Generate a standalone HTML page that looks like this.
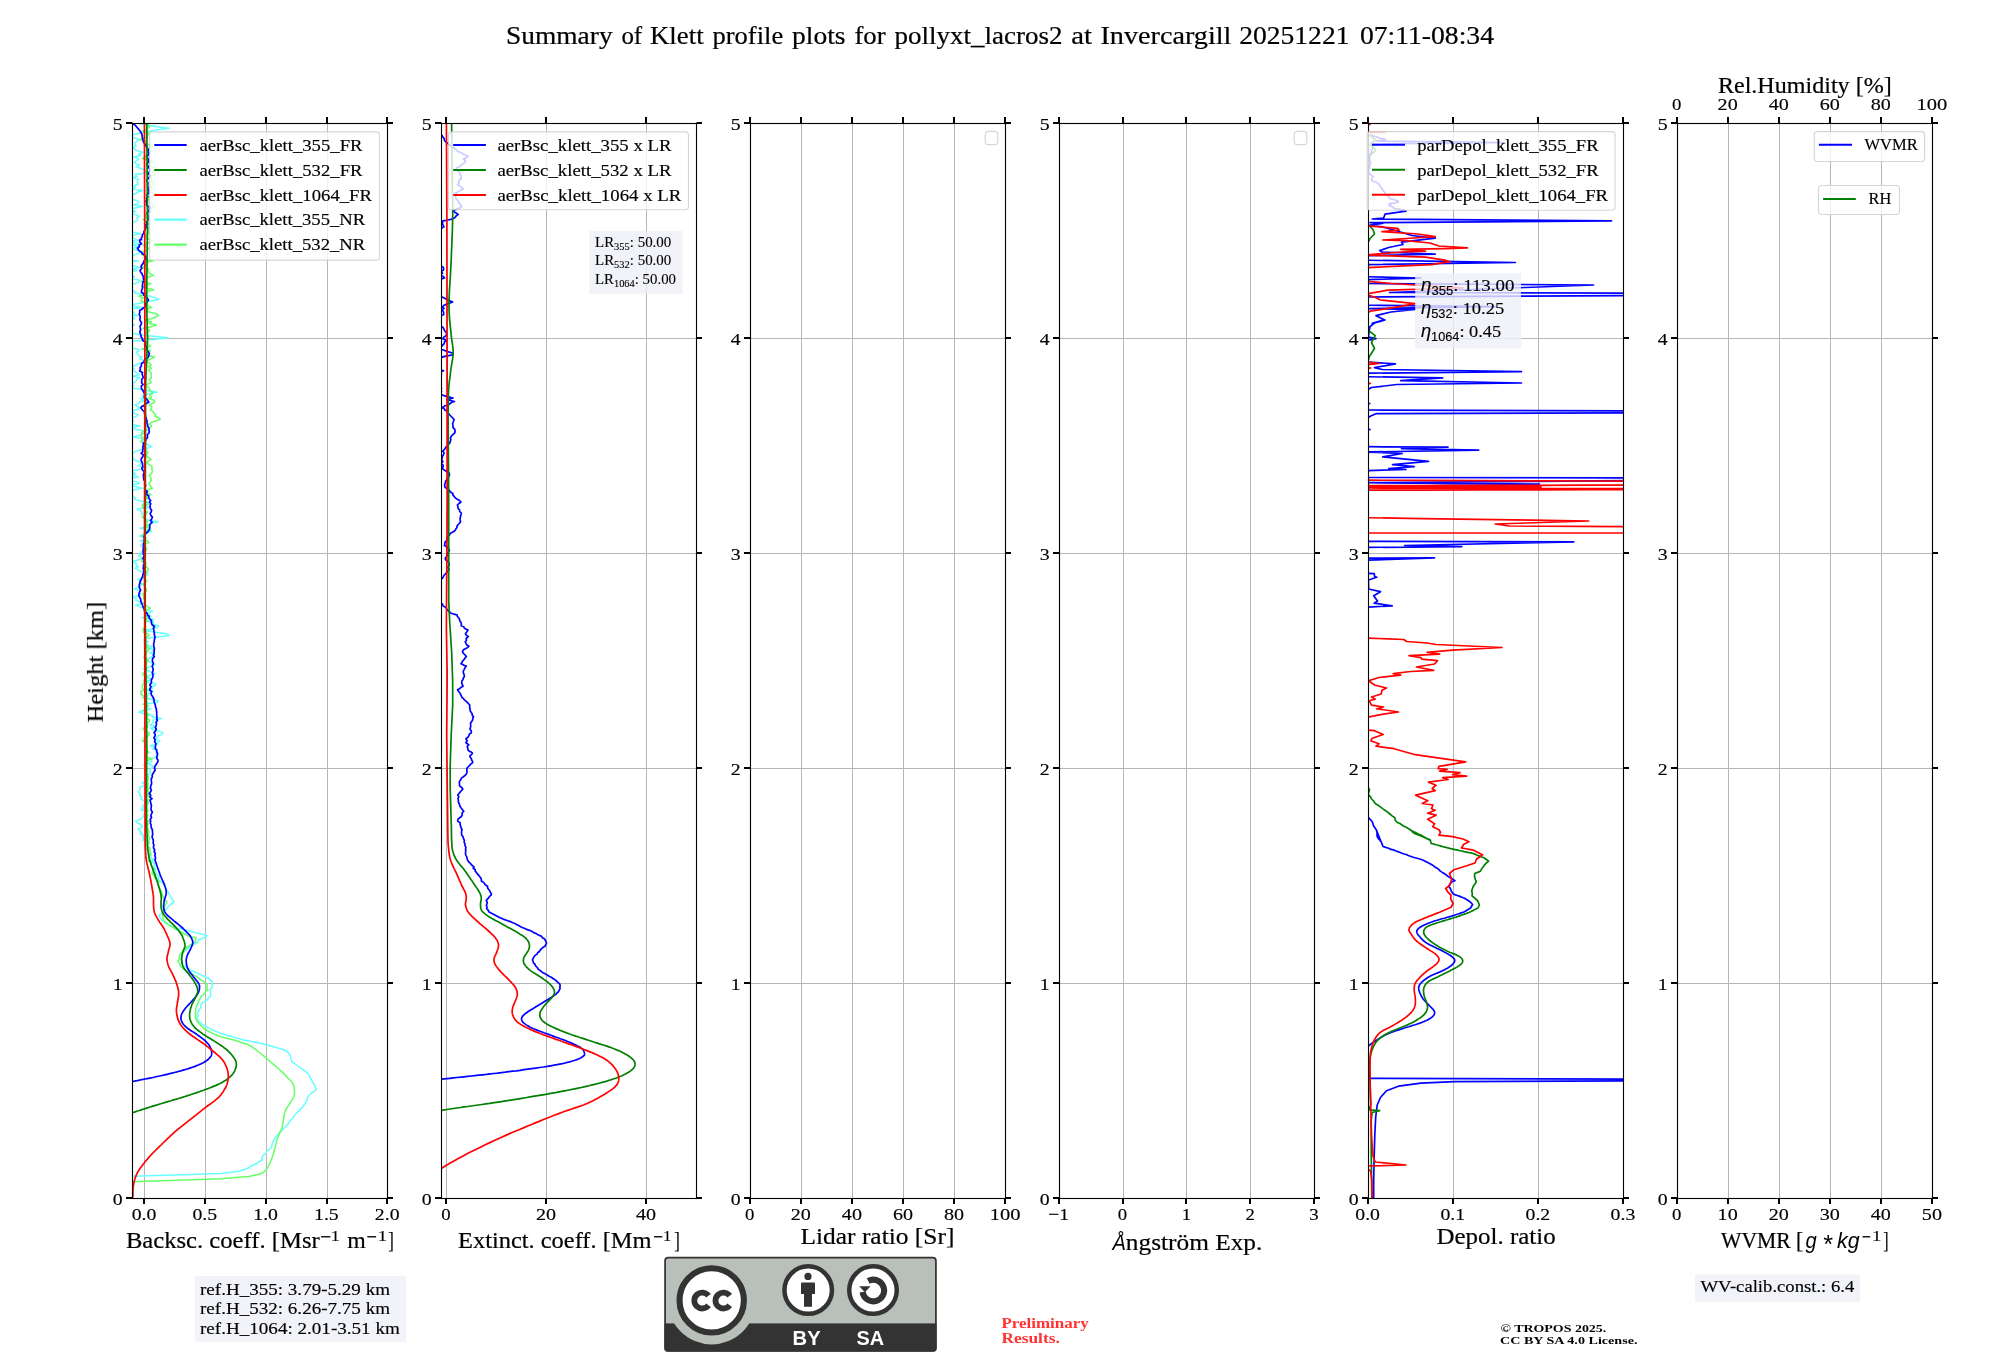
<!DOCTYPE html>
<html><head><meta charset="utf-8"><title>Klett profile summary</title>
<style>
html,body{margin:0;padding:0;background:#fff;}
body{width:2000px;height:1360px;overflow:hidden;font-family:"Liberation Serif",serif;}
svg{display:block;}
text{white-space:pre;}
</style></head><body>
<svg width="2000" height="1360" viewBox="0 0 2000 1360" style="will-change:transform">
<defs>
<clipPath id="clip0"><rect x="132.5" y="123.5" width="255.0" height="1075.0"/></clipPath><clipPath id="clip1"><rect x="441.5" y="123.5" width="255.0" height="1075.0"/></clipPath><clipPath id="clip2"><rect x="750.5" y="123.5" width="255.0" height="1075.0"/></clipPath><clipPath id="clip3"><rect x="1059.5" y="123.5" width="255.0" height="1075.0"/></clipPath><clipPath id="clip4"><rect x="1368.5" y="123.5" width="255.0" height="1075.0"/></clipPath><clipPath id="clip5"><rect x="1677.5" y="123.5" width="255.0" height="1075.0"/></clipPath>
</defs>
<rect width="2000" height="1360" fill="#fff"/>
<g opacity="0.999">
<line x1="144.50" y1="123.5" x2="144.50" y2="1198.5" stroke="#b6b6b6" stroke-width="1"/>
<line x1="205.50" y1="123.5" x2="205.50" y2="1198.5" stroke="#b6b6b6" stroke-width="1"/>
<line x1="266.50" y1="123.5" x2="266.50" y2="1198.5" stroke="#b6b6b6" stroke-width="1"/>
<line x1="327.50" y1="123.5" x2="327.50" y2="1198.5" stroke="#b6b6b6" stroke-width="1"/>
<line x1="387.50" y1="123.5" x2="387.50" y2="1198.5" stroke="#b6b6b6" stroke-width="1"/>
<line x1="132.5" y1="1198.50" x2="387.5" y2="1198.50" stroke="#b6b6b6" stroke-width="1"/>
<line x1="132.5" y1="983.50" x2="387.5" y2="983.50" stroke="#b6b6b6" stroke-width="1"/>
<line x1="132.5" y1="768.50" x2="387.5" y2="768.50" stroke="#b6b6b6" stroke-width="1"/>
<line x1="132.5" y1="553.50" x2="387.5" y2="553.50" stroke="#b6b6b6" stroke-width="1"/>
<line x1="132.5" y1="338.50" x2="387.5" y2="338.50" stroke="#b6b6b6" stroke-width="1"/>
<line x1="132.5" y1="123.50" x2="387.5" y2="123.50" stroke="#b6b6b6" stroke-width="1"/>
<g clip-path="url(#clip0)">
<path d="M139.2,123.4 L147.5,125.0 L155.4,126.6 L169.1,128.2 L157.2,129.8 L149.1,131.4 L140.7,133.0 L133.3,134.6 L131.8,136.2 L134.0,137.8 L139.1,139.4 L137.3,141.0 L135.1,142.6 L134.7,144.2 L136.2,145.8 L133.0,147.4 L134.8,149.0 L136.5,150.6 L142.9,152.2 L138.6,153.8 L141.0,155.4 L133.9,157.0 L138.6,158.6 L137.7,160.2 L134.4,161.8 L135.2,163.4 L139.3,165.0 L136.0,166.6 L140.1,168.2 L143.9,169.8 L145.9,171.4 L146.7,173.0 L135.1,174.6 L136.9,176.2 L133.4,177.8 L138.7,179.4 L137.3,181.0 L137.3,182.6 L138.3,184.2 L134.3,185.8 L135.5,187.4 L132.6,189.0 L143.0,190.6 L136.9,192.2 L136.2,193.8 L128.5,195.4 L126.5,197.0 L128.3,198.6 L135.8,200.2 L138.9,201.8 L138.1,203.4 L134.0,205.0 L142.6,206.6 L134.2,208.2 L131.4,209.8 L135.8,211.4 L131.4,213.0 L134.9,214.6 L139.3,216.2 L136.8,217.8 L137.7,219.4 L136.5,221.0 L133.0,222.6 L121.0,224.2 L124.2,225.8 L130.6,227.4 L126.4,229.0 L129.2,230.6 L133.6,232.2 L140.3,233.8 L131.6,235.4 L131.5,237.0 L134.6,238.6 L137.2,240.2 L129.4,241.8 L140.3,243.4 L132.4,245.0 L137.7,246.6 L133.5,248.2 L134.4,249.8 L141.3,251.4 L139.4,253.0 L135.7,254.6 L128.4,256.2 L127.1,257.8 L122.7,259.4 L138.2,261.0 L126.7,262.6 L116.7,264.2 L133.8,265.8 L139.2,267.4 L133.1,269.0 L136.7,270.6 L129.8,272.2 L128.1,273.8 L132.9,275.4 L134.3,277.0 L130.7,278.6 L139.6,280.2 L138.9,281.8 L135.6,283.4 L127.5,285.0 L130.8,286.6 L129.9,288.2 L130.8,289.8 L135.5,291.4 L134.7,293.0 L142.7,294.6 L150.3,296.2 L155.4,297.8 L158.7,299.4 L150.7,301.0 L144.5,302.6 L134.2,304.2 L129.8,305.8 L143.5,307.4 L128.6,309.0 L129.2,310.6 L134.2,312.2 L133.5,313.8 L137.3,315.4 L126.4,317.0 L134.7,318.6 L128.4,320.2 L124.4,321.8 L131.8,323.4 L134.4,325.0 L129.4,326.6 L126.9,328.2 L128.9,329.8 L130.8,331.4 L130.7,333.0 L138.6,334.6 L153.6,336.2 L168.0,337.8 L153.0,339.4 L132.9,341.0 L125.0,342.6 L129.1,344.2 L132.1,345.8 L125.6,347.4 L138.0,349.0 L139.1,350.6 L136.3,352.2 L138.0,353.8 L138.2,355.4 L141.9,357.0 L139.6,358.6 L143.3,360.2 L146.2,361.8 L139.3,363.4 L135.9,365.0 L132.5,366.6 L134.0,368.2 L132.4,369.8 L135.0,371.4 L137.3,373.0 L139.3,374.6 L132.8,376.2 L139.8,377.8 L136.7,379.4 L136.2,381.0 L134.3,382.6 L127.1,384.2 L133.8,385.8 L127.9,387.4 L137.8,389.0 L148.4,390.6 L157.1,392.2 L148.7,393.8 L142.2,395.4 L145.1,397.0 L140.1,398.6 L144.8,400.2 L139.6,401.8 L139.1,403.4 L134.9,405.0 L138.3,406.6 L140.3,408.2 L136.1,409.8 L131.0,411.4 L134.2,413.0 L137.6,414.6 L136.5,416.2 L132.5,417.8 L131.9,419.4 L133.6,421.0 L124.2,422.6 L129.0,424.2 L139.8,425.8 L132.5,427.4 L134.1,429.0 L143.0,430.6 L142.5,432.2 L143.2,433.8 L138.9,435.4 L132.0,437.0 L147.3,438.6 L142.6,440.2 L140.3,441.8 L146.2,443.4 L148.5,445.0 L151.7,446.6 L147.2,448.2 L140.3,449.8 L135.4,451.4 L133.4,453.0 L131.7,454.6 L130.4,456.2 L133.7,457.8 L133.0,459.4 L137.1,461.0 L141.4,462.6 L140.2,464.2 L138.4,465.8 L144.3,467.4 L142.9,469.0 L133.1,470.6 L132.3,472.2 L135.8,473.8 L132.7,475.4 L138.5,477.0 L130.1,478.6 L125.9,480.2 L136.6,481.8 L139.3,483.4 L131.1,485.0 L134.9,486.6 L141.9,488.2 L134.3,489.8 L131.7,491.4 L131.2,493.0 L132.6,494.6 L130.9,496.2 L135.7,497.8 L134.6,499.4 L139.9,501.0 L150.2,502.6 L142.1,504.2 L146.1,505.8 L148.8,507.4 L136.6,509.0 L140.8,510.6 L142.0,512.2 L141.3,513.8 L145.4,515.4 L142.3,517.0 L144.1,518.6 L148.8,520.2 L157.9,521.8 L150.0,523.4 L150.3,525.0 L145.8,526.6 L139.9,528.2 L149.2,529.8 L151.6,531.4 L145.9,533.0 L141.7,534.6 L139.7,536.2 L146.3,537.8 L143.2,539.4 L140.4,541.0 L145.1,542.6 L142.6,544.2 L140.6,545.8 L146.3,547.4 L143.5,549.0 L143.4,550.6 L140.8,552.2 L143.0,553.8 L138.4,555.4 L140.8,557.0 L142.1,558.6 L137.1,560.2 L131.7,561.8 L136.4,563.4 L135.9,565.0 L138.5,566.6 L135.0,568.2 L137.8,569.8 L140.7,571.4 L147.3,573.0 L147.9,574.6 L142.8,576.2 L144.7,577.8 L137.6,579.4 L141.5,581.0 L139.3,582.6 L142.9,584.2 L140.6,585.8 L137.5,587.4 L134.4,589.0 L140.6,590.6 L138.7,592.2 L140.4,593.8 L140.2,595.4 L130.5,597.0 L136.6,598.6 L135.6,600.2 L139.7,601.8 L142.7,603.4 L135.7,605.0 L139.6,606.6 L143.3,608.2 L147.6,609.8 L152.8,611.4 L147.9,613.0 L147.6,614.6 L151.1,616.2 L142.0,617.8 L154.2,619.4 L147.2,621.0 L154.0,622.6 L151.8,624.2 L158.4,625.8 L157.6,627.4 L152.6,629.0 L143.3,630.6 L156.1,632.2 L166.7,633.8 L169.2,635.4 L157.3,637.0 L145.3,638.6 L143.7,640.2 L148.2,641.8 L145.1,643.4 L147.1,645.0 L152.5,646.6 L148.9,648.2 L155.0,649.8 L153.1,651.4 L149.9,653.0 L154.4,654.6 L153.7,656.2 L150.1,657.8 L147.2,659.4 L148.4,661.0 L150.6,662.6 L155.0,664.2 L153.0,665.8 L148.4,667.4 L143.4,669.0 L148.2,670.6 L150.8,672.2 L155.0,673.8 L149.7,675.4 L144.2,677.0 L151.0,678.6 L149.6,680.2 L144.5,681.8 L154.7,683.4 L155.7,685.0 L152.6,686.6 L152.2,688.2 L147.7,689.8 L153.3,691.4 L149.5,693.0 L147.8,694.6 L147.8,696.2 L144.2,697.8 L152.0,699.4 L158.2,701.0 L157.0,702.6 L144.6,704.2 L147.0,705.8 L146.7,707.4 L151.0,709.0 L142.4,710.6 L138.9,712.2 L144.7,713.8 L153.1,715.4 L152.0,717.0 L161.4,718.6 L153.0,720.2 L153.3,721.8 L152.7,723.4 L149.9,725.0 L156.6,726.6 L150.4,728.2 L153.5,729.8 L159.0,731.4 L163.0,733.0 L161.3,734.6 L157.3,736.2 L157.0,737.8 L154.3,739.4 L160.0,741.0 L157.6,742.6 L157.7,744.2 L150.3,745.8 L155.5,747.4 L152.7,749.0 L156.5,750.6 L156.5,752.2 L156.3,753.8 L157.8,755.4 L155.8,757.0 L151.0,758.6 L151.8,760.2 L151.8,761.8 L147.9,763.4 L150.7,765.0 L153.8,766.6 L151.5,768.2 L149.9,769.8 L149.8,771.4 L151.0,773.0 L147.2,774.6 L148.8,776.2 L145.2,777.8 L146.3,779.4 L146.4,781.0 L142.2,782.6 L144.3,784.2 L144.0,785.8 L139.6,787.4 L140.0,789.0 L139.5,790.6 L138.5,792.2 L140.3,793.8 L139.7,795.4 L141.7,797.0 L140.9,798.6 L142.8,800.2 L148.3,801.8 L148.1,803.4 L143.4,805.0 L142.6,806.6 L143.7,808.2 L141.0,809.8 L144.9,811.4 L144.4,813.0 L144.0,814.6 L143.9,816.2 L142.2,817.8 L140.5,819.4 L135.8,821.0 L136.6,822.6 L140.4,824.2 L142.6,825.8 L141.8,827.4 L138.1,829.0 L139.6,830.6 L141.5,832.2 L140.2,833.8 L144.8,835.4 L142.6,837.0 L144.1,838.6 L143.1,840.2 L146.5,841.8 L144.6,843.4 L144.8,845.0 L148.5,846.6 L146.5,848.2 L147.1,849.8 L149.5,851.4 L150.5,853.0 L147.9,854.6 L150.9,856.2 L151.1,857.8 L153.9,859.4 L150.8,861.0 L153.7,862.6 L154.7,864.2 L154.2,865.8 L154.3,867.4 L155.9,869.0 L155.3,870.6 L156.0,872.2 L156.0,873.8 L157.7,875.4 L159.6,877.0 L157.6,878.6 L159.3,880.2 L160.8,881.8 L163.3,883.4 L166.0,890.0 L168.1,891.5 L168.4,893.0 L169.5,894.5 L170.3,896.0 L171.2,897.6 L172.4,899.2 L173.1,900.8 L173.9,902.4 L172.2,903.5 L170.4,904.5 L169.5,905.5 L168.1,906.5 L167.5,908.0 L165.8,909.5 L164.5,911.0 L163.3,912.3 L161.6,913.6 L159.2,914.9 L159.3,916.2 L159.7,917.7 L161.2,919.2 L162.0,920.7 L164.8,922.2 L165.5,923.0 L166.7,923.7 L167.5,924.5 L170.2,925.2 L170.9,926.0 L173.5,926.7 L173.8,927.5 L176.1,927.9 L178.3,928.3 L179.0,928.6 L181.2,929.0 L182.8,929.4 L184.9,929.8 L185.8,930.2 L188.0,930.6 L190.4,930.9 L190.2,931.3 L192.1,931.7 L194.4,932.1 L195.5,932.6 L196.8,933.0 L199.8,933.5 L201.2,933.9 L202.9,934.4 L204.6,934.8 L206.0,935.3 L206.8,935.7 L206.3,936.3 L206.3,936.9 L204.0,937.5 L203.1,938.1 L201.8,938.7 L199.4,939.3 L198.4,940.7 L198.0,942.1 L196.0,943.5 L193.2,944.4 L192.5,945.3 L191.1,946.2 L189.9,947.1 L188.5,948.0 L186.8,949.2 L185.5,950.4 L184.9,951.6 L182.5,952.8 L182.7,954.0 L182.0,956.0 L181.3,958.0 L181.0,960.0 L182.2,961.5 L182.0,963.0 L182.3,964.5 L184.5,966.0 L186.4,966.9 L186.9,967.8 L188.4,968.7 L189.7,969.6 L190.5,970.5 L192.8,971.1 L194.5,971.7 L195.6,972.4 L197.5,973.0 L198.0,973.6 L200.2,974.2 L201.1,975.0 L202.8,975.7 L204.7,976.5 L206.1,977.2 L208.0,978.0 L209.4,978.7 L209.7,980.0 L212.2,981.2 L212.0,982.5 L212.4,984.7 L212.2,987.0 L210.9,988.5 L210.0,990.0 L210.5,992.2 L210.8,994.5 L210.7,995.8 L209.4,997.1 L208.0,998.4 L207.5,999.7 L206.0,1000.7 L204.7,1001.6 L202.7,1002.6 L201.6,1003.5 L200.7,1005.7 L200.8,1008.0 L199.1,1009.5 L199.2,1011.0 L197.7,1012.5 L197.6,1014.0 L198.4,1016.0 L197.3,1018.0 L197.8,1020.0 L198.6,1021.2 L200.1,1022.4 L201.5,1023.6 L203.2,1024.8 L205.0,1026.0 L206.5,1026.7 L207.3,1027.4 L209.1,1028.0 L209.8,1028.7 L212.3,1029.4 L213.4,1030.1 L214.4,1030.8 L216.1,1031.5 L218.3,1032.1 L219.6,1032.8 L221.0,1033.5 L244.5,1040.2 L249.0,1041.1 L255.1,1042.2 L258.3,1042.9 L261.2,1043.5 L266.0,1044.7 L270.8,1045.9 L275.0,1047.0 L278.5,1048.1 L282.3,1049.2 L285.6,1050.5 L287.3,1051.8 L288.6,1053.1 L289.5,1054.5 L290.6,1055.9 L290.5,1057.5 L290.9,1059.0 L291.7,1060.5 L291.8,1061.9 L294.7,1063.4 L296.1,1064.8 L298.5,1066.5 L300.8,1068.4 L304.6,1070.5 L307.0,1072.6 L309.0,1074.7 L309.9,1076.9 L310.8,1079.0 L312.2,1081.1 L313.4,1083.0 L314.1,1084.7 L315.4,1086.1 L315.4,1087.6 L316.4,1089.0 L314.9,1090.4 L314.0,1091.7 L311.3,1093.2 L309.4,1095.0 L307.5,1097.4 L306.8,1100.3 L305.4,1103.1 L303.6,1105.5 L302.6,1107.2 L301.3,1108.4 L300.2,1109.6 L298.9,1111.2 L296.1,1113.4 L294.2,1115.9 L292.3,1118.5 L290.1,1121.0 L288.6,1123.3 L286.6,1125.5 L284.7,1127.7 L282.5,1130.0 L279.1,1132.6 L277.7,1135.3 L274.9,1138.1 L273.7,1140.5 L272.4,1142.6 L272.1,1144.5 L271.8,1146.2 L271.1,1148.0 L268.7,1149.8 L266.7,1151.5 L266.0,1153.2 L264.0,1154.7 L262.6,1156.2 L262.1,1157.4 L261.6,1158.7 L262.4,1160.0 L259.4,1161.5 L257.3,1163.0 L254.7,1164.5 L251.3,1166.0 L249.2,1167.5 L245.9,1169.0 L242.0,1170.3 L239.0,1171.2 L221.0,1173.5 L185.0,1174.7 L155.0,1175.6 L131.0,1176.2" fill="none" stroke="#66ffff" stroke-width="1.5" stroke-linejoin="round" stroke-linecap="butt"/>
<path d="M146.5,123.4 L146.8,125.0 L149.8,126.6 L147.8,128.2 L145.4,129.8 L142.7,131.4 L148.6,133.0 L148.5,134.6 L147.0,136.2 L145.2,137.8 L139.8,139.4 L145.4,141.0 L144.7,142.6 L147.1,144.2 L153.0,145.8 L149.9,147.4 L149.2,149.0 L152.3,150.6 L150.0,152.2 L150.1,153.8 L146.1,155.4 L145.0,157.0 L142.3,158.6 L149.3,160.2 L153.3,161.8 L149.7,163.4 L149.2,165.0 L148.2,166.6 L157.4,168.2 L156.3,169.8 L152.3,171.4 L153.1,173.0 L155.5,174.6 L149.2,176.2 L151.5,177.8 L152.5,179.4 L151.1,181.0 L152.8,182.6 L154.9,184.2 L152.2,185.8 L149.7,187.4 L152.7,189.0 L151.6,190.6 L151.9,192.2 L156.9,193.8 L154.2,195.4 L151.5,197.0 L146.4,198.6 L149.4,200.2 L150.7,201.8 L152.0,203.4 L152.5,205.0 L153.1,206.6 L152.0,208.2 L151.1,209.8 L152.1,211.4 L148.6,213.0 L146.1,214.6 L144.9,216.2 L147.8,217.8 L143.3,219.4 L145.2,221.0 L147.0,222.6 L149.3,224.2 L146.2,225.8 L148.2,227.4 L149.0,229.0 L147.6,230.6 L148.8,232.2 L148.5,233.8 L145.5,235.4 L146.6,237.0 L145.3,238.6 L153.3,240.2 L150.2,241.8 L147.3,243.4 L143.2,245.0 L145.9,246.6 L148.2,248.2 L148.0,249.8 L143.3,251.4 L142.4,253.0 L141.7,254.6 L145.7,256.2 L144.1,257.8 L145.8,259.4 L152.9,261.0 L143.9,262.6 L145.2,264.2 L146.5,265.8 L142.2,267.4 L148.8,269.0 L147.4,270.6 L148.9,272.2 L150.2,273.8 L153.6,275.4 L148.3,277.0 L145.9,278.6 L142.7,280.2 L141.3,281.8 L151.0,283.4 L147.7,285.0 L141.9,286.6 L147.5,288.2 L153.6,289.8 L147.2,291.4 L147.4,293.0 L142.9,294.6 L138.9,296.2 L143.1,297.8 L141.7,299.4 L141.1,301.0 L144.8,302.6 L147.8,304.2 L147.0,305.8 L151.7,307.4 L147.4,309.0 L146.5,310.6 L150.1,312.2 L156.4,313.8 L158.5,315.4 L155.8,317.0 L151.8,318.6 L145.1,320.2 L151.5,321.8 L149.2,323.4 L156.3,325.0 L151.8,326.6 L143.0,328.2 L149.4,329.8 L149.1,331.4 L146.5,333.0 L147.7,334.6 L147.8,336.2 L148.8,337.8 L142.2,339.4 L145.4,341.0 L148.3,342.6 L144.1,344.2 L150.6,345.8 L148.8,347.4 L141.9,349.0 L150.6,350.6 L148.2,352.2 L148.6,353.8 L148.0,355.4 L154.5,357.0 L151.5,358.6 L147.9,360.2 L146.6,361.8 L149.7,363.4 L151.2,365.0 L148.2,366.6 L151.6,368.2 L148.4,369.8 L149.5,371.4 L151.1,373.0 L151.2,374.6 L151.2,376.2 L151.3,377.8 L149.2,379.4 L150.3,381.0 L151.1,382.6 L147.3,384.2 L145.1,385.8 L148.8,387.4 L149.5,389.0 L150.4,390.6 L152.3,392.2 L152.2,393.8 L149.7,395.4 L151.4,397.0 L148.9,398.6 L154.2,400.2 L154.8,401.8 L152.3,403.4 L149.4,405.0 L151.8,406.6 L151.4,408.2 L150.2,409.8 L153.0,411.4 L153.6,413.0 L155.8,414.6 L154.9,416.2 L158.8,417.8 L160.3,419.4 L155.5,421.0 L150.6,422.6 L149.3,424.2 L151.6,425.8 L150.2,427.4 L147.7,429.0 L145.7,430.6 L141.7,432.2 L141.8,433.8 L140.7,435.4 L142.1,437.0 L141.9,438.6 L141.7,440.2 L141.7,441.8 L143.3,443.4 L146.1,445.0 L142.4,446.6 L144.6,448.2 L144.2,449.8 L147.1,451.4 L148.1,453.0 L145.9,454.6 L146.5,456.2 L149.1,457.8 L151.0,459.4 L148.5,461.0 L146.9,462.6 L148.6,464.2 L151.3,465.8 L152.2,467.4 L151.8,469.0 L152.2,470.6 L152.2,472.2 L151.2,473.8 L149.0,475.4 L150.6,477.0 L150.8,478.6 L151.5,480.2 L150.2,481.8 L148.7,483.4 L150.0,485.0 L150.7,486.6 L152.5,488.2 L147.9,489.8 L147.2,491.4 L147.2,493.0 L151.1,494.6 L145.2,496.2 L147.9,497.8 L146.1,499.4 L144.9,501.0 L147.5,502.6 L148.4,504.2 L142.2,505.8 L142.6,507.4 L144.8,509.0 L144.9,510.6 L147.7,512.2 L145.6,513.8 L145.6,515.4 L142.3,517.0 L145.3,518.6 L145.8,520.2 L147.2,521.8 L145.3,523.4 L148.8,525.0 L146.0,526.6 L148.8,528.2 L150.2,529.8 L146.1,531.4 L146.1,533.0 L144.7,534.6 L142.0,536.2 L144.7,537.8 L145.0,539.4 L147.4,541.0 L148.8,542.6 L143.8,544.2 L144.0,545.8 L145.2,547.4 L146.6,549.0 L146.0,550.6 L144.2,552.2 L144.3,553.8 L145.8,555.4 L143.2,557.0 L141.9,558.6 L141.5,560.2 L142.3,561.8 L146.1,563.4 L144.7,565.0 L146.1,566.6 L147.9,568.2 L148.4,569.8 L147.0,571.4 L145.8,573.0 L145.4,574.6 L144.7,576.2 L143.7,577.8 L145.3,579.4 L146.8,581.0 L144.9,582.6 L143.5,584.2 L144.4,585.8 L144.9,587.4 L146.4,589.0 L146.1,590.6 L145.8,592.2 L142.8,593.8 L143.4,595.4 L143.8,597.0 L143.5,598.6 L145.3,600.2 L145.3,601.8 L143.9,603.4 L145.4,605.0 L147.4,606.6 L150.4,608.2 L147.5,609.8 L145.5,611.4 L146.9,613.0 L149.1,614.6 L146.1,616.2 L146.9,617.8 L145.7,619.4 L147.2,621.0 L145.0,622.6 L144.5,624.2 L144.6,625.8 L144.8,627.4 L142.9,629.0 L143.9,630.6 L143.3,632.2 L147.9,633.8 L149.1,635.4 L146.1,637.0 L145.0,638.6 L146.0,640.2 L144.8,641.8 L144.3,643.4 L146.2,645.0 L147.9,646.6 L147.5,648.2 L149.1,649.8 L147.3,651.4 L146.2,653.0 L145.2,654.6 L144.7,656.2 L143.8,657.8 L147.5,659.4 L148.1,661.0 L146.6,662.6 L146.3,664.2 L144.4,665.8 L146.3,667.4 L145.7,669.0 L145.4,670.6 L145.1,672.2 L142.7,673.8 L143.4,675.4 L147.5,677.0 L145.1,678.6 L143.8,680.2 L144.5,681.8 L143.5,683.4 L142.9,685.0 L142.4,686.6 L142.5,688.2 L144.4,689.8 L140.9,691.4 L141.0,693.0 L141.2,694.6 L143.8,696.2 L143.3,697.8 L145.4,699.4 L144.2,701.0 L147.1,702.6 L143.2,704.2 L148.2,705.8 L144.6,707.4 L144.7,709.0 L143.5,710.6 L144.4,712.2 L148.1,713.8 L148.5,715.4 L146.2,717.0 L147.0,718.6 L149.8,720.2 L149.0,721.8 L146.8,723.4 L147.2,725.0 L147.5,726.6 L143.4,728.2 L143.9,729.8 L145.3,731.4 L149.3,733.0 L149.0,734.6 L148.0,736.2 L144.0,737.8 L144.4,739.4 L142.6,741.0 L144.9,742.6 L144.6,744.2 L147.1,745.8 L146.7,747.4 L146.6,749.0 L147.1,750.6 L148.5,752.2 L146.8,753.8 L145.7,755.4 L146.4,757.0 L152.1,758.6 L148.0,760.2 L145.8,761.8 L146.9,763.4 L144.0,765.0 L146.4,766.6 L144.6,768.2 L145.2,769.8 L145.6,771.4 L144.7,773.0 L146.6,774.6 L146.6,776.2 L148.3,777.8 L148.4,779.4 L146.8,781.0 L147.9,782.6 L148.3,784.2 L147.7,785.8 L147.5,787.4 L148.9,789.0 L146.8,790.6 L148.7,792.2 L148.0,793.8 L148.2,795.4 L149.1,797.0 L151.7,798.6 L147.8,800.2 L145.4,801.8 L147.8,803.4 L146.9,805.0 L147.1,806.6 L145.1,808.2 L147.8,809.8 L147.9,811.4 L145.4,813.0 L147.8,814.6 L147.5,816.2 L146.7,817.8 L144.7,819.4 L148.7,821.0 L146.8,822.6 L148.1,824.2 L147.0,825.8 L146.0,827.4 L148.2,829.0 L148.7,830.6 L148.9,832.2 L147.7,833.8 L148.4,835.4 L148.8,837.0 L150.0,838.6 L148.7,840.2 L148.7,841.8 L149.2,843.4 L145.7,845.0 L147.5,846.6 L149.9,848.2 L150.0,849.8 L149.8,851.4 L150.3,853.0 L151.1,854.6 L148.5,856.2 L148.6,857.8 L148.6,859.4 L148.4,861.0 L150.9,862.6 L150.5,864.2 L151.6,865.8 L152.9,867.4 L154.3,869.0 L152.7,870.6 L152.2,872.2 L151.9,873.8 L154.3,875.4 L154.3,877.0 L155.9,878.6 L157.4,880.2 L159.2,881.8 L157.5,883.4 L160.4,890.0 L161.7,891.9 L162.0,893.7 L162.5,895.6 L163.6,897.5 L164.2,898.8 L165.0,900.1 L166.8,901.4 L166.8,902.7 L165.6,904.5 L164.7,906.2 L164.1,908.0 L163.9,909.5 L163.4,911.0 L162.8,912.5 L162.5,914.0 L162.8,916.0 L162.7,918.0 L163.3,920.0 L164.5,921.2 L165.5,922.4 L167.5,923.6 L168.6,924.8 L169.9,926.0 L172.3,926.9 L173.3,927.7 L174.3,928.6 L176.0,929.4 L178.5,930.3 L178.9,931.1 L180.8,932.0 L182.3,932.7 L183.7,933.5 L185.3,934.2 L186.3,935.0 L187.8,935.7 L189.5,936.5 L191.4,936.8 L193.8,937.2 L196.1,937.5 L195.2,939.7 L195.7,942.0 L193.6,942.9 L192.2,943.8 L190.9,944.7 L189.6,945.6 L187.8,946.5 L185.7,947.7 L186.1,949.0 L184.2,950.2 L182.8,951.5 L182.0,952.7 L180.3,954.0 L179.4,955.9 L179.6,957.7 L179.0,959.6 L177.9,961.5 L179.4,963.0 L179.9,964.5 L180.1,966.0 L182.0,967.5 L182.8,968.4 L183.6,969.2 L185.6,970.1 L186.8,971.0 L188.5,971.9 L189.0,972.7 L191.4,973.6 L192.9,974.5 L194.3,975.4 L195.8,976.2 L197.6,977.1 L198.8,978.0 L199.9,979.0 L200.9,980.0 L203.1,981.0 L204.4,982.0 L205.5,983.0 L206.8,984.0 L207.4,986.0 L206.5,988.0 L207.9,990.0 L205.5,991.2 L205.4,992.4 L204.5,993.6 L203.5,994.8 L201.3,996.0 L200.9,997.5 L200.0,999.0 L198.4,1000.5 L198.8,1002.0 L197.9,1003.5 L197.3,1005.0 L196.3,1006.5 L196.1,1008.0 L195.6,1009.5 L195.8,1011.5 L195.1,1013.5 L196.2,1015.5 L195.2,1017.0 L195.8,1018.5 L196.4,1020.0 L197.0,1021.5 L204.5,1029.0 L206.3,1030.0 L208.8,1031.3 L211.7,1032.9 L214.9,1034.4 L218.0,1035.7 L221.1,1036.8 L224.5,1037.7 L227.9,1038.5 L231.2,1039.3 L234.5,1040.2 L237.7,1041.2 L240.8,1042.2 L243.9,1043.2 L246.8,1044.3 L249.5,1045.5 L251.9,1046.9 L254.1,1048.3 L256.1,1049.9 L258.1,1051.5 L260.0,1053.0 L261.9,1054.5 L263.6,1055.9 L265.4,1057.4 L267.1,1058.9 L269.0,1060.5 L271.1,1062.2 L273.2,1064.1 L275.4,1065.9 L277.6,1067.8 L279.5,1069.5 L281.2,1071.1 L282.8,1072.6 L284.3,1074.1 L285.6,1075.6 L287.0,1077.0 L288.4,1078.4 L289.7,1079.8 L291.0,1081.1 L292.1,1082.4 L293.0,1083.7 L293.6,1085.1 L294.0,1086.5 L294.3,1087.9 L294.4,1089.2 L294.5,1090.5 L294.6,1091.7 L294.6,1092.8 L294.5,1093.9 L294.2,1095.1 L293.7,1096.5 L293.0,1098.2 L291.9,1100.1 L290.7,1102.0 L289.5,1103.9 L288.5,1105.5 L287.7,1106.7 L287.1,1107.7 L286.5,1108.5 L286.0,1109.4 L285.5,1110.5 L285.1,1111.8 L284.7,1113.2 L284.4,1114.7 L284.0,1116.3 L283.7,1118.0 L283.4,1119.9 L283.1,1122.0 L282.7,1124.2 L282.3,1126.4 L281.7,1128.5 L281.0,1130.6 L280.0,1132.8 L279.0,1134.9 L278.0,1137.0 L277.2,1139.0 L276.7,1140.8 L276.3,1142.6 L275.9,1144.3 L275.5,1146.0 L275.0,1148.0 L274.4,1150.2 L273.7,1152.7 L272.9,1155.2 L272.1,1157.7 L271.2,1160.0 L270.3,1162.2 L269.3,1164.3 L268.2,1166.4 L267.1,1168.2 L266.0,1169.7 L264.9,1170.9 L263.9,1171.8 L262.9,1172.6 L261.6,1173.2 L260.0,1173.8 L257.8,1174.5 L255.1,1175.1 L252.2,1175.7 L249.7,1176.2 L248.0,1176.5 L221.0,1178.7 L185.0,1179.9 L155.0,1181.0 L131.0,1181.7" fill="none" stroke="#66ff66" stroke-width="1.5" stroke-linejoin="round" stroke-linecap="butt"/>
<path d="M132.5,123.5 L135.0,125.0 L138.0,128.5 L140.5,131.5 L141.9,134.3 L142.5,138.0 L143.4,141.8 L146.0,146.0 L148.6,150.0 L147.4,150.0 L148.2,151.6 L149.2,153.2 L148.4,154.8 L147.2,156.4 L147.7,158.0 L148.4,159.6 L149.3,161.2 L147.8,162.8 L146.9,164.4 L148.1,166.0 L148.6,167.6 L149.8,169.2 L149.9,170.8 L149.0,172.4 L148.4,174.0 L150.6,175.6 L149.2,177.2 L148.0,178.8 L147.0,180.4 L147.5,182.0 L147.9,183.6 L147.6,185.2 L147.7,186.8 L148.1,188.4 L148.6,190.0 L149.3,191.6 L148.8,193.2 L146.8,194.8 L147.9,196.4 L146.6,198.0 L147.0,199.6 L146.0,201.2 L146.8,202.8 L146.5,204.4 L147.2,206.0 L150.4,207.6 L149.1,209.2 L149.2,210.8 L147.3,212.4 L147.2,214.0 L147.9,215.6 L147.7,217.2 L147.9,218.8 L147.8,220.4 L146.8,222.0 L146.9,223.6 L145.5,225.2 L146.8,226.8 L145.1,228.4 L144.9,230.0 L143.9,231.6 L143.9,233.2 L142.2,234.8 L142.4,236.4 L141.2,238.0 L141.5,239.6 L139.4,240.0 L139.9,241.9 L141.5,243.8 L139.0,245.3 L139.4,246.8 L137.4,248.3 L138.4,249.8 L139.4,251.0 L141.5,252.2 L142.0,253.4 L144.0,254.6 L145.1,256.3 L146.3,258.0 L145.9,259.4 L144.1,260.7 L143.6,262.1 L143.2,263.4 L141.9,264.8 L141.0,266.6 L141.8,268.5 L140.0,270.4 L140.6,272.0 L142.0,273.6 L142.5,275.2 L143.5,276.8 L143.3,278.5 L144.4,280.3 L143.0,282.0 L142.6,284.0 L142.4,286.0 L142.6,288.0 L141.6,290.3 L141.5,292.5 L144.5,293.8 L143.5,295.1 L145.3,296.4 L147.1,297.8 L148.4,300.0 L147.0,302.3 L145.2,304.0 L145.9,305.8 L144.2,307.5 L142.7,308.5 L141.5,309.5 L139.7,310.5 L139.7,312.4 L139.2,314.3 L140.1,316.1 L140.1,318.0 L139.9,319.5 L140.3,321.0 L141.5,322.5 L141.2,324.3 L140.1,326.1 L140.2,327.9 L140.8,329.7 L139.9,331.5 L140.2,333.3 L140.9,335.0 L141.1,336.8 L142.4,338.6 L142.7,340.5 L145.5,342.0 L145.1,343.6 L145.1,345.2 L146.6,346.9 L146.8,348.5 L147.1,350.1 L148.2,351.8 L149.4,353.4 L149.0,355.0 L148.5,356.4 L147.8,357.8 L145.1,359.2 L144.3,360.6 L144.0,362.1 L141.6,363.5 L141.4,364.9 L141.2,366.3 L140.1,367.7 L140.4,369.3 L139.6,371.0 L142.5,372.6 L142.1,374.2 L142.8,375.9 L143.3,377.5 L141.8,379.2 L141.7,381.0 L141.6,382.8 L143.1,384.5 L141.3,386.2 L141.4,388.0 L142.1,389.6 L143.3,391.2 L144.0,392.7 L144.6,394.3 L144.5,395.9 L144.2,397.5 L146.8,399.0 L147.6,400.6 L148.9,402.2 L146.8,403.3 L145.2,404.3 L144.4,405.4 L142.0,406.4 L140.9,407.5 L141.6,409.0 L143.0,410.5 L144.6,412.0 L144.5,413.5 L145.4,415.0 L145.5,416.5 L146.2,418.0 L146.5,419.5 L147.2,421.0 L146.7,422.5 L147.5,424.3 L147.6,426.1 L148.9,427.9 L148.9,429.7 L149.3,431.5 L149.0,433.0 L147.4,434.5 L147.5,436.0 L147.5,437.5 L145.8,439.0 L145.8,440.5 L144.6,442.0 L143.2,443.5 L143.6,445.0 L142.8,446.7 L143.1,448.3 L142.6,450.0 L142.8,451.7 L141.2,453.3 L143.3,455.0 L142.7,456.7 L141.5,458.3 L141.0,460.0 L141.8,461.7 L142.4,463.3 L142.6,465.0 L142.8,466.7 L141.8,468.3 L142.5,470.0 L144.2,471.7 L143.9,473.3 L143.2,475.0 L143.7,476.7 L143.5,478.3 L143.9,480.0 L145.3,481.7 L144.7,483.3 L145.6,485.0 L145.3,486.7 L144.5,488.3 L145.1,490.0 L147.4,491.5 L146.3,493.0 L146.8,494.5 L148.7,496.0 L148.7,497.5 L149.2,499.0 L150.7,500.5 L149.5,502.0 L150.8,503.7 L150.1,505.3 L150.0,507.0 L150.5,508.7 L151.7,510.3 L151.1,512.0 L150.2,513.7 L150.8,515.3 L152.4,517.0 L151.8,518.8 L150.4,520.5 L152.1,522.2 L150.3,524.0 L149.6,525.8 L149.9,527.5 L149.5,529.0 L148.9,530.5 L147.6,532.0 L145.8,533.5 L144.7,535.0 L144.0,536.8 L144.6,538.6 L144.1,540.4 L144.3,542.2 L143.3,544.0 L143.7,545.6 L143.4,547.2 L143.2,548.8 L143.2,550.4 L143.3,552.1 L143.2,553.7 L144.1,555.3 L143.8,556.9 L143.0,558.5 L144.0,560.1 L143.9,561.7 L144.5,563.3 L143.5,564.9 L143.5,566.6 L143.2,568.2 L143.6,569.8 L143.8,571.4 L143.6,573.0 L142.8,574.6 L142.7,576.3 L141.8,577.9 L141.3,579.5 L140.1,581.2 L140.1,582.8 L139.3,584.6 L139.2,586.3 L139.6,588.1 L140.6,589.9 L139.8,591.7 L139.1,593.5 L138.8,595.2 L139.4,597.0 L140.3,598.5 L140.9,600.0 L140.8,601.5 L141.7,603.0 L142.1,604.5 L142.8,606.0 L143.3,607.5 L144.5,609.0 L144.2,610.5 L145.5,612.0 L147.2,613.5 L147.4,615.0 L149.2,616.5 L149.1,618.0 L150.6,619.5 L151.6,621.2 L151.4,623.0 L152.1,624.8 L154.5,626.5 L153.3,628.2 L153.9,630.0 L154.0,631.7 L154.4,633.3 L154.4,635.0 L154.9,636.7 L154.9,638.3 L154.2,640.0 L154.3,641.7 L153.7,643.3 L153.7,645.0 L153.9,646.7 L154.5,648.3 L154.0,650.0 L154.2,651.7 L154.1,653.3 L153.3,655.0 L154.4,656.7 L152.7,658.3 L152.4,660.0 L152.5,661.7 L153.4,663.3 L152.6,665.0 L152.3,666.7 L152.9,668.3 L153.2,670.0 L152.5,671.7 L152.4,673.3 L153.1,675.0 L152.8,676.7 L152.4,678.3 L151.2,680.0 L151.5,681.7 L151.2,683.3 L149.7,685.0 L151.1,686.7 L150.2,688.3 L149.6,690.0 L151.7,691.5 L151.1,693.0 L151.2,694.5 L152.2,696.0 L153.1,697.5 L153.9,699.0 L154.0,700.5 L154.1,702.0 L154.8,703.5 L155.3,705.0 L155.5,706.8 L156.3,708.5 L156.3,710.2 L156.8,712.0 L156.6,713.8 L156.8,715.5 L157.0,717.2 L156.7,718.9 L157.4,720.6 L156.0,722.2 L156.5,723.9 L156.2,725.6 L155.3,727.3 L156.2,729.0 L155.6,730.8 L154.0,732.5 L155.2,734.2 L155.1,736.0 L153.9,737.8 L155.0,739.5 L155.1,740.0 L154.6,741.7 L155.9,743.4 L155.6,745.1 L155.4,746.7 L155.2,748.4 L156.8,750.1 L156.6,751.8 L157.6,753.5 L157.4,755.1 L156.8,756.8 L156.8,758.4 L158.0,760.1 L157.9,761.7 L156.8,763.4 L155.7,765.0 L154.8,766.7 L154.6,768.3 L155.2,770.0 L154.0,771.7 L153.1,773.5 L152.1,775.2 L152.3,777.0 L151.3,778.7 L151.3,780.5 L151.5,782.1 L151.6,783.8 L150.9,785.4 L150.5,787.1 L150.6,788.7 L151.4,790.4 L150.4,792.0 L149.3,793.7 L150.8,795.3 L149.9,797.0 L152.0,798.7 L150.1,800.3 L150.6,802.0 L150.8,803.7 L151.5,805.3 L151.2,807.0 L151.0,808.7 L151.1,810.3 L152.4,812.0 L151.5,813.9 L150.8,815.7 L151.6,817.6 L150.2,819.5 L150.7,821.2 L150.2,823.0 L151.0,824.7 L151.1,826.5 L151.5,828.2 L152.4,830.0 L152.5,831.7 L152.6,833.3 L152.7,835.0 L152.0,836.7 L152.6,838.3 L153.4,840.0 L153.2,841.7 L153.2,843.3 L154.0,845.0 L153.4,846.7 L153.7,848.3 L154.7,850.0 L154.1,851.7 L155.3,853.3 L154.9,855.0 L155.2,856.7 L155.5,858.3 L155.0,860.0 L155.4,861.2 L156.0,862.8 L156.6,864.7 L157.3,866.8 L158.1,869.0 L158.9,871.2 L159.6,873.2 L160.2,875.0 L160.9,876.5 L161.5,878.0 L162.1,879.4 L162.7,880.7 L163.3,882.0 L163.9,883.2 L164.3,884.4 L164.7,885.5 L165.1,886.6 L165.4,887.6 L165.7,888.5 L165.9,889.4 L166.1,890.3 L166.2,891.2 L166.2,892.1 L166.2,893.0 L166.2,893.9 L166.0,894.9 L165.7,895.8 L165.4,896.7 L165.1,897.7 L164.8,898.6 L164.5,899.6 L164.3,900.5 L164.1,901.4 L164.0,902.4 L163.8,903.4 L163.7,904.3 L163.6,905.3 L163.6,906.2 L163.6,907.1 L163.7,908.0 L163.8,908.8 L164.0,909.6 L164.2,910.4 L164.5,911.1 L164.8,911.8 L165.2,912.5 L165.7,913.3 L166.2,914.0 L166.9,914.7 L167.6,915.5 L168.4,916.2 L169.2,916.9 L170.1,917.6 L171.1,918.4 L172.0,919.2 L173.0,920.0 L174.0,920.9 L175.1,921.8 L176.3,922.7 L177.5,923.7 L178.6,924.6 L179.8,925.6 L180.9,926.6 L182.0,927.5 L183.1,928.5 L184.1,929.5 L185.2,930.6 L186.3,931.7 L187.2,932.7 L188.1,933.6 L188.9,934.4 L189.5,935.0 L189.9,935.4 L190.1,935.6 L190.2,935.6 L190.2,935.6 L190.1,935.5 L190.1,935.6 L190.1,935.7 L190.2,936.0 L190.5,936.5 L190.9,937.1 L191.3,937.9 L191.7,938.7 L192.1,939.5 L192.4,940.4 L192.7,941.2 L192.8,942.0 L192.8,942.7 L192.7,943.5 L192.5,944.2 L192.3,944.9 L192.0,945.6 L191.7,946.4 L191.3,947.2 L191.0,948.0 L190.6,948.9 L190.1,949.8 L189.6,950.8 L189.1,951.7 L188.5,952.7 L188.0,953.7 L187.6,954.6 L187.2,955.5 L187.0,956.3 L186.7,957.1 L186.5,957.8 L186.4,958.5 L186.3,959.2 L186.2,959.9 L186.2,960.7 L186.2,961.5 L186.3,962.4 L186.4,963.3 L186.5,964.2 L186.7,965.2 L186.9,966.1 L187.2,967.1 L187.6,968.1 L188.0,969.0 L188.5,969.9 L189.1,970.9 L189.7,971.8 L190.4,972.8 L191.1,973.7 L191.9,974.7 L192.6,975.6 L193.2,976.5 L193.9,977.4 L194.7,978.3 L195.4,979.2 L196.1,980.1 L196.8,980.9 L197.5,981.7 L198.0,982.5 L198.5,983.2 L198.9,983.9 L199.1,984.5 L199.3,985.0 L199.5,985.5 L199.5,986.1 L199.6,986.6 L199.6,987.1 L199.5,987.7 L199.5,988.4 L199.4,989.1 L199.2,989.9 L199.0,990.6 L198.8,991.4 L198.5,992.2 L198.2,993.0 L197.7,993.7 L197.3,994.5 L196.7,995.3 L196.1,996.2 L195.5,997.0 L194.8,997.8 L194.1,998.7 L193.3,999.6 L192.5,1000.5 L191.6,1001.5 L190.7,1002.5 L189.7,1003.5 L188.7,1004.6 L187.6,1005.7 L186.7,1006.8 L185.8,1007.8 L185.0,1008.7 L184.3,1009.7 L183.7,1010.6 L183.1,1011.4 L182.6,1012.3 L182.2,1013.1 L181.8,1013.9 L181.5,1014.7 L181.2,1015.5 L181.1,1016.3 L181.0,1017.1 L180.9,1017.8 L180.9,1018.5 L181.0,1019.3 L181.2,1020.0 L181.4,1020.8 L181.7,1021.5 L182.1,1022.2 L182.5,1023.0 L183.0,1023.7 L183.6,1024.5 L184.2,1025.2 L184.9,1026.0 L185.7,1026.7 L186.5,1027.5 L187.4,1028.2 L188.5,1029.0 L189.6,1029.7 L190.7,1030.5 L191.9,1031.2 L193.2,1031.9 L194.3,1032.7 L195.5,1033.5 L196.7,1034.3 L197.8,1035.2 L199.0,1036.0 L200.2,1036.9 L201.4,1037.7 L202.5,1038.6 L203.6,1039.4 L204.5,1040.2 L205.4,1041.0 L206.2,1041.8 L206.9,1042.6 L207.6,1043.3 L208.2,1044.0 L208.8,1044.8 L209.3,1045.5 L209.7,1046.2 L210.2,1047.0 L210.5,1047.8 L210.9,1048.6 L211.1,1049.3 L211.3,1050.1 L211.5,1050.9 L211.6,1051.6 L211.7,1052.2 L211.7,1052.9 L211.7,1053.5 L211.7,1054.0 L211.6,1054.5 L211.4,1055.1 L211.2,1055.6 L210.9,1056.2 L210.5,1056.7 L210.0,1057.4 L209.5,1058.0 L208.9,1058.7 L208.2,1059.3 L207.4,1060.0 L206.5,1060.7 L205.6,1061.3 L204.5,1062.0 L203.3,1062.7 L202.1,1063.3 L200.7,1064.0 L199.2,1064.6 L197.7,1065.3 L196.1,1065.9 L194.3,1066.6 L192.5,1067.2 L190.5,1067.9 L188.5,1068.6 L186.3,1069.3 L184.0,1069.9 L181.6,1070.6 L179.2,1071.2 L176.9,1071.9 L174.5,1072.5 L172.1,1073.1 L169.6,1073.7 L167.1,1074.3 L164.6,1074.9 L162.0,1075.5 L159.6,1076.0 L157.2,1076.5 L155.0,1077.0 L152.9,1077.5 L150.8,1077.9 L148.8,1078.3 L146.8,1078.7 L145.0,1079.0 L143.2,1079.4 L141.6,1079.7 L140.0,1080.0 L138.5,1080.3 L137.1,1080.6 L135.8,1080.8 L134.6,1081.1 L133.5,1081.3 L132.5,1081.5 L131.7,1081.7 L131.0,1081.8" fill="none" stroke="#0000ff" stroke-width="1.7" stroke-linejoin="round" stroke-linecap="butt"/>
<path d="M146.8,123.4 L147.5,222.0 L146.6,300.0 L147.5,340.0 L145.6,385.0 L145.2,544.0 L145.2,615.0 L146.8,740.0 L146.4,815.0 L146.5,817.4 L146.6,820.7 L146.7,824.7 L146.8,829.1 L147.0,833.5 L147.1,837.9 L147.3,841.8 L147.5,845.0 L147.7,847.6 L147.9,849.8 L148.1,851.7 L148.4,853.4 L148.6,855.0 L148.9,856.6 L149.3,858.2 L149.7,860.0 L150.3,861.9 L150.9,863.7 L151.5,865.6 L152.2,867.5 L152.9,869.4 L153.6,871.2 L154.3,873.1 L155.0,875.0 L155.6,876.9 L156.3,878.9 L157.0,881.0 L157.6,883.0 L158.3,884.9 L158.8,886.8 L159.4,888.5 L159.8,890.0 L160.2,891.3 L160.4,892.4 L160.7,893.4 L160.9,894.2 L161.0,895.0 L161.1,895.8 L161.2,896.6 L161.3,897.5 L161.3,898.4 L161.3,899.4 L161.2,900.3 L161.1,901.2 L161.1,902.2 L161.0,903.1 L161.0,904.1 L161.0,905.0 L161.1,905.9 L161.1,906.9 L161.2,907.8 L161.4,908.7 L161.5,909.7 L161.8,910.6 L162.1,911.6 L162.5,912.5 L163.0,913.4 L163.6,914.4 L164.4,915.3 L165.1,916.2 L165.9,917.2 L166.8,918.1 L167.6,919.1 L168.5,920.0 L169.4,920.9 L170.3,921.9 L171.3,922.8 L172.3,923.7 L173.3,924.7 L174.2,925.6 L175.1,926.6 L176.0,927.5 L176.8,928.5 L177.7,929.5 L178.5,930.5 L179.3,931.6 L180.0,932.6 L180.6,933.5 L181.2,934.3 L181.7,935.0 L182.0,935.5 L182.3,935.9 L182.4,936.1 L182.4,936.2 L182.5,936.4 L182.5,936.6 L182.6,937.0 L182.7,937.5 L183.0,938.2 L183.3,939.0 L183.7,939.9 L184.1,940.9 L184.4,942.0 L184.7,943.0 L184.9,944.0 L185.0,945.0 L184.9,945.9 L184.7,946.9 L184.4,947.8 L184.1,948.7 L183.7,949.7 L183.3,950.6 L183.0,951.6 L182.7,952.5 L182.5,953.4 L182.3,954.4 L182.1,955.3 L182.0,956.2 L181.8,957.2 L181.7,958.1 L181.7,959.1 L181.7,960.0 L181.8,960.9 L181.9,961.9 L182.0,962.8 L182.2,963.7 L182.4,964.7 L182.7,965.6 L183.1,966.6 L183.5,967.5 L184.1,968.4 L184.7,969.4 L185.5,970.3 L186.3,971.2 L187.1,972.2 L188.0,973.1 L188.8,974.1 L189.5,975.0 L190.2,975.9 L190.9,976.9 L191.6,977.8 L192.3,978.7 L193.0,979.7 L193.6,980.6 L194.2,981.6 L194.7,982.5 L195.3,983.4 L195.8,984.4 L196.3,985.3 L196.7,986.2 L197.1,987.2 L197.4,988.1 L197.6,989.1 L197.7,990.0 L197.7,990.9 L197.6,991.9 L197.4,992.8 L197.0,993.7 L196.7,994.7 L196.3,995.6 L195.9,996.6 L195.5,997.5 L195.1,998.4 L194.6,999.4 L194.1,1000.3 L193.6,1001.2 L193.1,1002.2 L192.6,1003.1 L192.1,1004.1 L191.7,1005.0 L191.4,1005.9 L191.1,1006.9 L190.8,1007.8 L190.5,1008.7 L190.3,1009.7 L190.1,1010.6 L189.9,1011.6 L189.8,1012.5 L189.7,1013.4 L189.6,1014.4 L189.6,1015.3 L189.6,1016.2 L189.7,1017.2 L189.8,1018.1 L190.0,1019.1 L190.2,1020.0 L190.6,1020.9 L191.0,1021.9 L191.4,1022.8 L191.9,1023.7 L192.5,1024.7 L193.2,1025.6 L193.9,1026.6 L194.7,1027.5 L195.7,1028.4 L196.8,1029.4 L197.9,1030.3 L199.2,1031.2 L200.4,1032.2 L201.8,1033.1 L203.1,1034.1 L204.5,1035.0 L205.9,1035.9 L207.4,1036.9 L208.9,1037.8 L210.5,1038.7 L212.0,1039.7 L213.6,1040.6 L215.1,1041.6 L216.5,1042.5 L217.9,1043.4 L219.3,1044.4 L220.7,1045.3 L222.1,1046.2 L223.4,1047.2 L224.7,1048.1 L225.9,1049.1 L227.0,1050.0 L228.1,1050.9 L229.0,1051.9 L230.0,1052.9 L230.9,1053.8 L231.7,1054.8 L232.4,1055.7 L233.1,1056.6 L233.7,1057.5 L234.3,1058.3 L234.8,1059.1 L235.2,1059.9 L235.5,1060.6 L235.8,1061.3 L236.0,1062.0 L236.2,1062.8 L236.3,1063.5 L236.4,1064.2 L236.4,1065.0 L236.3,1065.7 L236.2,1066.5 L236.1,1067.2 L235.8,1067.9 L235.6,1068.7 L235.2,1069.5 L234.9,1070.3 L234.5,1071.1 L234.0,1072.0 L233.5,1072.8 L233.0,1073.7 L232.3,1074.5 L231.6,1075.4 L230.7,1076.2 L229.8,1077.1 L228.8,1077.9 L227.7,1078.8 L226.5,1079.7 L225.3,1080.5 L223.9,1081.3 L222.5,1082.2 L221.0,1083.0 L219.4,1083.8 L217.8,1084.6 L216.0,1085.4 L214.2,1086.1 L212.3,1086.9 L210.3,1087.7 L208.2,1088.5 L206.0,1089.3 L203.7,1090.2 L201.2,1091.0 L198.6,1092.0 L196.0,1092.9 L193.2,1093.8 L190.5,1094.7 L187.7,1095.6 L185.0,1096.5 L182.2,1097.4 L179.4,1098.2 L176.5,1099.1 L173.7,1099.9 L170.8,1100.8 L167.9,1101.6 L165.2,1102.4 L162.5,1103.2 L159.9,1104.0 L157.2,1104.9 L154.6,1105.6 L152.1,1106.4 L149.6,1107.2 L147.3,1107.9 L145.1,1108.6 L143.0,1109.2 L141.1,1109.9 L139.2,1110.5 L137.4,1111.0 L135.8,1111.6 L134.3,1112.1 L133.0,1112.5 L131.9,1112.9 L131.0,1113.1" fill="none" stroke="#008000" stroke-width="1.7" stroke-linejoin="round" stroke-linecap="butt"/>
<path d="M144.4,123.4 L144.7,222.0 L144.9,340.0 L144.5,544.0 L145.0,740.0 L145.2,845.0 L145.3,846.2 L145.4,847.7 L145.5,849.5 L145.6,851.6 L145.7,853.7 L145.8,855.9 L146.0,858.0 L146.3,860.0 L146.6,861.9 L147.0,863.7 L147.5,865.6 L147.9,867.5 L148.4,869.4 L148.9,871.2 L149.3,873.1 L149.7,875.0 L150.1,876.9 L150.5,878.9 L150.9,881.0 L151.2,883.0 L151.6,884.9 L151.9,886.8 L152.2,888.5 L152.4,890.0 L152.7,891.3 L152.9,892.4 L153.0,893.4 L153.1,894.2 L153.3,895.0 L153.3,895.8 L153.4,896.6 L153.5,897.5 L153.5,898.4 L153.5,899.4 L153.5,900.3 L153.5,901.2 L153.5,902.2 L153.5,903.1 L153.5,904.1 L153.5,905.0 L153.6,905.9 L153.6,906.9 L153.7,907.8 L153.8,908.7 L153.9,909.7 L154.1,910.6 L154.3,911.6 L154.5,912.5 L154.9,913.4 L155.3,914.4 L155.7,915.3 L156.2,916.2 L156.7,917.2 L157.2,918.1 L157.8,919.1 L158.3,920.0 L158.9,920.9 L159.5,921.9 L160.1,922.8 L160.8,923.7 L161.4,924.7 L162.1,925.6 L162.7,926.6 L163.2,927.5 L163.8,928.4 L164.3,929.4 L164.8,930.3 L165.2,931.2 L165.7,932.1 L166.1,933.1 L166.6,934.0 L167.0,935.0 L167.4,936.0 L167.9,937.1 L168.4,938.2 L168.8,939.2 L169.2,940.3 L169.6,941.4 L169.8,942.5 L170.0,943.5 L170.0,944.5 L169.9,945.4 L169.8,946.4 L169.5,947.3 L169.3,948.2 L169.0,949.1 L168.7,950.1 L168.5,951.0 L168.3,951.9 L168.1,952.9 L167.8,953.8 L167.6,954.7 L167.3,955.7 L167.2,956.6 L167.0,957.6 L167.0,958.5 L167.0,959.4 L167.1,960.3 L167.2,961.2 L167.4,962.2 L167.6,963.1 L167.8,964.0 L168.1,965.0 L168.5,966.0 L168.9,967.1 L169.4,968.1 L170.0,969.3 L170.6,970.4 L171.2,971.6 L171.9,972.7 L172.5,973.9 L173.0,975.0 L173.5,976.1 L174.0,977.2 L174.5,978.4 L175.0,979.5 L175.5,980.6 L176.0,981.7 L176.4,982.9 L176.7,984.0 L177.1,985.1 L177.4,986.2 L177.8,987.4 L178.0,988.5 L178.3,989.6 L178.5,990.7 L178.6,991.9 L178.7,993.0 L178.7,994.1 L178.6,995.2 L178.5,996.4 L178.3,997.5 L178.1,998.6 L177.9,999.7 L177.7,1000.9 L177.5,1002.0 L177.3,1003.1 L177.2,1004.2 L177.0,1005.4 L176.8,1006.5 L176.6,1007.6 L176.5,1008.7 L176.4,1009.9 L176.4,1011.0 L176.5,1012.1 L176.6,1013.3 L176.8,1014.4 L177.0,1015.6 L177.3,1016.7 L177.5,1017.9 L177.9,1018.9 L178.2,1020.0 L178.7,1021.0 L179.1,1022.0 L179.6,1022.9 L180.1,1023.8 L180.7,1024.8 L181.3,1025.7 L182.0,1026.6 L182.7,1027.5 L183.6,1028.4 L184.5,1029.4 L185.4,1030.3 L186.4,1031.2 L187.5,1032.1 L188.6,1033.1 L189.8,1034.0 L191.0,1035.0 L192.3,1036.0 L193.8,1037.0 L195.3,1038.0 L196.9,1039.1 L198.4,1040.1 L200.0,1041.2 L201.5,1042.2 L203.0,1043.2 L204.4,1044.3 L205.8,1045.3 L207.1,1046.4 L208.5,1047.4 L209.8,1048.5 L211.1,1049.5 L212.3,1050.5 L213.5,1051.5 L214.7,1052.5 L215.8,1053.4 L216.9,1054.4 L218.0,1055.3 L219.0,1056.2 L220.0,1057.1 L220.9,1058.1 L221.7,1059.0 L222.5,1059.9 L223.2,1060.9 L223.8,1061.8 L224.4,1062.7 L224.9,1063.7 L225.4,1064.6 L225.8,1065.6 L226.2,1066.5 L226.6,1067.4 L227.0,1068.4 L227.3,1069.3 L227.5,1070.2 L227.8,1071.2 L227.9,1072.1 L228.1,1073.1 L228.2,1074.0 L228.3,1074.9 L228.3,1075.9 L228.3,1076.8 L228.3,1077.7 L228.2,1078.7 L228.1,1079.6 L227.9,1080.6 L227.7,1081.5 L227.5,1082.4 L227.3,1083.3 L227.0,1084.2 L226.6,1085.2 L226.3,1086.1 L225.8,1087.0 L225.3,1088.0 L224.7,1089.0 L224.1,1090.0 L223.5,1091.1 L222.8,1092.2 L222.0,1093.3 L221.2,1094.5 L220.2,1095.6 L219.2,1096.8 L218.0,1098.0 L216.6,1099.2 L215.1,1100.4 L213.5,1101.7 L211.8,1102.9 L210.0,1104.2 L208.1,1105.5 L206.3,1106.9 L204.5,1108.2 L202.7,1109.7 L200.9,1111.1 L199.0,1112.6 L197.1,1114.1 L195.2,1115.7 L193.3,1117.2 L191.4,1118.7 L189.5,1120.2 L187.6,1121.7 L185.7,1123.2 L183.8,1124.7 L181.9,1126.2 L180.0,1127.7 L178.1,1129.2 L176.3,1130.7 L174.5,1132.2 L172.7,1133.8 L170.9,1135.4 L169.2,1137.1 L167.5,1138.7 L165.8,1140.4 L164.1,1142.0 L162.5,1143.5 L161.0,1145.0 L159.5,1146.4 L158.1,1147.8 L156.7,1149.2 L155.4,1150.5 L154.1,1151.8 L152.8,1153.0 L151.6,1154.3 L150.5,1155.5 L149.4,1156.7 L148.4,1157.9 L147.4,1159.1 L146.4,1160.2 L145.5,1161.3 L144.6,1162.4 L143.8,1163.5 L143.0,1164.5 L142.2,1165.5 L141.5,1166.5 L140.8,1167.4 L140.1,1168.3 L139.5,1169.3 L138.9,1170.2 L138.3,1171.1 L137.7,1172.0 L137.3,1172.9 L136.8,1173.9 L136.4,1174.8 L136.0,1175.7 L135.7,1176.7 L135.3,1177.6 L135.0,1178.6 L134.7,1179.5 L134.5,1180.4 L134.2,1181.3 L134.0,1182.2 L133.8,1183.1 L133.7,1184.0 L133.5,1184.9 L133.4,1185.9 L133.2,1187.0 L133.1,1188.2 L133.1,1189.7 L133.0,1191.2 L132.9,1192.7 L132.9,1194.2 L132.9,1195.5 L132.8,1196.7 L132.8,1197.5" fill="none" stroke="#ff0000" stroke-width="1.7" stroke-linejoin="round" stroke-linecap="butt"/>
</g>
<rect x="132.5" y="123.5" width="255.0" height="1075.0" fill="none" stroke="#000" stroke-width="1.12"/>
<line x1="144.00" y1="1198.5" x2="144.00" y2="1204.0" stroke="#000" stroke-width="2.0"/>
<line x1="144.00" y1="123.5" x2="144.00" y2="117.0" stroke="#000" stroke-width="2.0"/>
<text x="131.71" y="1220.20" font-size="17.6" font-family='"Liberation Serif", serif' fill="#000" textLength="24.70" lengthAdjust="spacingAndGlyphs" stroke="#000" stroke-width="0.16" >0.0</text>
<line x1="205.00" y1="1198.5" x2="205.00" y2="1204.0" stroke="#000" stroke-width="2.0"/>
<line x1="205.00" y1="123.5" x2="205.00" y2="117.0" stroke="#000" stroke-width="2.0"/>
<text x="192.49" y="1220.20" font-size="17.6" font-family='"Liberation Serif", serif' fill="#000" textLength="24.70" lengthAdjust="spacingAndGlyphs" stroke="#000" stroke-width="0.16" >0.5</text>
<line x1="266.00" y1="1198.5" x2="266.00" y2="1204.0" stroke="#000" stroke-width="2.0"/>
<line x1="266.00" y1="123.5" x2="266.00" y2="117.0" stroke="#000" stroke-width="2.0"/>
<text x="253.28" y="1220.20" font-size="17.6" font-family='"Liberation Serif", serif' fill="#000" textLength="24.70" lengthAdjust="spacingAndGlyphs" stroke="#000" stroke-width="0.16" >1.0</text>
<line x1="327.00" y1="1198.5" x2="327.00" y2="1204.0" stroke="#000" stroke-width="2.0"/>
<line x1="327.00" y1="123.5" x2="327.00" y2="117.0" stroke="#000" stroke-width="2.0"/>
<text x="314.06" y="1220.20" font-size="17.6" font-family='"Liberation Serif", serif' fill="#000" textLength="24.70" lengthAdjust="spacingAndGlyphs" stroke="#000" stroke-width="0.16" >1.5</text>
<line x1="387.00" y1="1198.5" x2="387.00" y2="1204.0" stroke="#000" stroke-width="2.0"/>
<line x1="387.00" y1="123.5" x2="387.00" y2="117.0" stroke="#000" stroke-width="2.0"/>
<text x="374.85" y="1220.20" font-size="17.6" font-family='"Liberation Serif", serif' fill="#000" textLength="24.70" lengthAdjust="spacingAndGlyphs" stroke="#000" stroke-width="0.16" >2.0</text>
<line x1="132.5" y1="1198.00" x2="126.0" y2="1198.00" stroke="#000" stroke-width="2.0"/>
<line x1="387.5" y1="1198.00" x2="393.0" y2="1198.00" stroke="#000" stroke-width="2.0"/>
<text x="112.70" y="1204.70" font-size="17.6" font-family='"Liberation Serif", serif' fill="#000" textLength="9.90" lengthAdjust="spacingAndGlyphs" stroke="#000" stroke-width="0.16" >0</text>
<line x1="132.5" y1="983.00" x2="126.0" y2="983.00" stroke="#000" stroke-width="2.0"/>
<line x1="387.5" y1="983.00" x2="393.0" y2="983.00" stroke="#000" stroke-width="2.0"/>
<text x="112.70" y="989.70" font-size="17.6" font-family='"Liberation Serif", serif' fill="#000" textLength="9.90" lengthAdjust="spacingAndGlyphs" stroke="#000" stroke-width="0.16" >1</text>
<line x1="132.5" y1="768.00" x2="126.0" y2="768.00" stroke="#000" stroke-width="2.0"/>
<line x1="387.5" y1="768.00" x2="393.0" y2="768.00" stroke="#000" stroke-width="2.0"/>
<text x="112.70" y="774.70" font-size="17.6" font-family='"Liberation Serif", serif' fill="#000" textLength="9.90" lengthAdjust="spacingAndGlyphs" stroke="#000" stroke-width="0.16" >2</text>
<line x1="132.5" y1="553.00" x2="126.0" y2="553.00" stroke="#000" stroke-width="2.0"/>
<line x1="387.5" y1="553.00" x2="393.0" y2="553.00" stroke="#000" stroke-width="2.0"/>
<text x="112.70" y="559.70" font-size="17.6" font-family='"Liberation Serif", serif' fill="#000" textLength="9.90" lengthAdjust="spacingAndGlyphs" stroke="#000" stroke-width="0.16" >3</text>
<line x1="132.5" y1="338.00" x2="126.0" y2="338.00" stroke="#000" stroke-width="2.0"/>
<line x1="387.5" y1="338.00" x2="393.0" y2="338.00" stroke="#000" stroke-width="2.0"/>
<text x="112.70" y="344.70" font-size="17.6" font-family='"Liberation Serif", serif' fill="#000" textLength="9.90" lengthAdjust="spacingAndGlyphs" stroke="#000" stroke-width="0.16" >4</text>
<line x1="132.5" y1="123.00" x2="126.0" y2="123.00" stroke="#000" stroke-width="2.0"/>
<line x1="387.5" y1="123.00" x2="393.0" y2="123.00" stroke="#000" stroke-width="2.0"/>
<text x="112.70" y="129.70" font-size="17.6" font-family='"Liberation Serif", serif' fill="#000" textLength="9.90" lengthAdjust="spacingAndGlyphs" stroke="#000" stroke-width="0.16" >5</text>
<line x1="446.50" y1="123.5" x2="446.50" y2="1198.5" stroke="#b6b6b6" stroke-width="1"/>
<line x1="546.50" y1="123.5" x2="546.50" y2="1198.5" stroke="#b6b6b6" stroke-width="1"/>
<line x1="646.50" y1="123.5" x2="646.50" y2="1198.5" stroke="#b6b6b6" stroke-width="1"/>
<line x1="441.5" y1="1198.50" x2="696.5" y2="1198.50" stroke="#b6b6b6" stroke-width="1"/>
<line x1="441.5" y1="983.50" x2="696.5" y2="983.50" stroke="#b6b6b6" stroke-width="1"/>
<line x1="441.5" y1="768.50" x2="696.5" y2="768.50" stroke="#b6b6b6" stroke-width="1"/>
<line x1="441.5" y1="553.50" x2="696.5" y2="553.50" stroke="#b6b6b6" stroke-width="1"/>
<line x1="441.5" y1="338.50" x2="696.5" y2="338.50" stroke="#b6b6b6" stroke-width="1"/>
<line x1="441.5" y1="123.50" x2="696.5" y2="123.50" stroke="#b6b6b6" stroke-width="1"/>
<g clip-path="url(#clip1)">
<path d="M437.9,133.9 L439.0,134.4 L441.7,135.0 L443.1,137.3 L444.3,138.8 L444.4,140.3 L445.8,141.8 L447.0,142.8 L448.3,143.9 L449.7,144.9 L451.2,146.0 L452.6,147.0 L453.9,148.1 L455.9,149.3 L457.0,150.4 L457.5,151.5 L460.8,152.3 L461.7,153.1 L463.1,153.9 L465.1,154.8 L466.7,155.6 L468.1,156.4 L466.4,157.3 L465.5,158.1 L463.4,159.0 L465.3,160.5 L465.0,162.0 L464.1,163.0 L462.9,163.9 L461.7,164.9 L460.3,165.9 L459.3,166.8 L456.3,167.8 L456.4,168.8 L457.3,170.1 L458.2,171.5 L459.9,172.9 L459.8,174.3 L461.1,175.6 L461.3,177.0 L461.2,178.5 L459.5,180.0 L458.5,181.5 L459.1,183.0 L457.5,184.5 L458.9,185.5 L460.6,186.6 L461.7,187.6 L463.5,188.6 L462.7,189.4 L460.3,190.2 L459.9,191.0 L457.7,191.8 L457.0,192.6 L455.1,193.4 L454.9,194.3 L455.4,195.7 L455.7,197.1 L455.9,198.5 L457.2,199.9 L458.3,201.3 L458.8,202.8 L460.1,204.2 L461.3,205.6 L461.7,207.0 L460.0,207.6 L459.0,208.3 L457.1,208.9 L456.0,209.5 L454.1,210.1 L453.4,210.8 L454.0,211.7 L455.1,212.6 L457.0,213.6 L458.1,214.5 L456.5,215.6 L455.5,216.8 L454.4,217.9 L451.8,219.0 L451.1,219.3 L449.4,219.6 L447.8,220.0 L446.6,220.3 L444.1,220.6 L443.3,220.9 L441.5,221.3 L442.6,222.0 L442.5,223.6 L443.1,225.2 L443.9,226.8 L440.9,228.4 L437.3,230.0 L435.5,231.6 L437.4,233.2 L440.2,234.8 L440.3,236.4 L437.2,238.0 L440.8,239.6 L437.1,241.2 L436.7,242.8 L436.3,244.4 L437.7,246.0 L440.5,247.6 L437.1,249.2 L437.1,250.8 L438.4,252.4 L436.3,254.0 L437.0,255.6 L438.1,257.2 L435.7,258.8 L434.0,260.4 L435.4,262.0 L436.1,263.6 L437.5,265.2 L442.7,266.8 L443.7,268.4 L443.4,270.0 L440.9,271.6 L442.4,273.2 L440.0,274.8 L443.1,276.4 L444.6,278.0 L439.0,279.6 L436.7,281.2 L437.1,282.8 L436.9,284.4 L435.0,286.0 L433.7,287.6 L436.8,289.2 L436.5,290.8 L434.1,292.4 L435.0,294.0 L438.3,295.6 L442.6,297.2 L445.6,298.8 L448.7,300.4 L452.7,302.0 L447.9,303.6 L444.1,305.2 L442.4,306.8 L443.9,308.4 L442.1,310.0 L443.3,311.6 L443.8,313.2 L443.5,314.8 L437.3,316.4 L437.8,318.0 L437.7,319.6 L441.0,321.2 L440.0,322.8 L440.8,324.4 L441.0,326.0 L443.2,327.6 L443.8,329.2 L444.7,330.8 L446.4,332.4 L446.5,334.0 L446.2,335.6 L443.7,337.2 L442.8,338.8 L446.4,340.4 L444.5,342.0 L444.2,343.6 L442.7,345.2 L441.2,346.8 L434.5,348.4 L443.4,350.0 L447.5,351.6 L453.3,353.2 L452.5,354.8 L444.8,356.4 L439.3,358.0 L435.9,359.6 L433.1,361.2 L436.2,362.8 L435.5,364.4 L436.4,366.0 L436.4,367.6 L438.6,369.2 L443.6,370.8 L439.8,372.4 L441.5,374.0 L439.5,375.6 L438.8,377.2 L435.0,378.8 L433.9,380.4 L434.5,382.0 L437.6,383.6 L438.7,385.2 L440.1,386.8 L441.5,388.4 L438.0,390.0 L441.5,391.6 L440.2,393.2 L441.5,394.8 L446.4,396.4 L453.0,398.0 L447.0,399.6 L454.5,401.5 L451.9,402.2 L450.9,403.0 L449.8,403.7 L449.0,404.5 L446.8,405.2 L444.4,406.0 L443.9,406.7 L441.7,407.5 L444.2,408.7 L444.9,410.0 L447.3,411.2 L447.7,412.5 L448.6,413.7 L449.8,415.0 L451.3,416.5 L452.7,418.0 L454.1,419.5 L453.4,421.5 L452.6,423.5 L453.0,425.5 L452.9,427.4 L454.8,429.3 L455.1,431.2 L454.8,432.8 L453.1,434.4 L451.4,436.0 L450.4,437.9 L450.8,439.7 L450.3,441.6 L449.5,443.5 L448.2,444.7 L448.0,445.9 L445.9,447.1 L445.2,448.3 L444.4,449.5 L442.8,451.2 L444.1,453.0 L443.5,454.7 L442.4,456.5 L442.0,458.2 L441.6,460.0 L442.9,461.8 L441.3,463.6 L443.2,465.4 L442.9,467.2 L442.7,469.0 L444.1,469.9 L445.5,470.8 L446.9,471.7 L448.8,472.6 L449.3,473.5 L449.5,475.0 L448.7,476.5 L447.4,478.0 L447.1,479.5 L445.7,481.0 L445.3,482.7 L444.7,484.5 L444.7,486.2 L445.2,487.4 L446.7,488.5 L448.3,489.6 L449.7,490.7 L450.3,492.1 L452.9,493.5 L452.8,494.9 L454.0,496.2 L455.0,497.6 L456.8,499.0 L459.5,500.5 L461.0,502.0 L458.9,503.5 L457.4,505.0 L457.9,506.6 L458.0,508.2 L459.5,509.9 L459.7,511.5 L461.4,513.1 L460.9,514.7 L460.5,516.5 L460.1,518.2 L460.1,520.0 L460.6,521.5 L459.7,523.0 L458.2,524.5 L457.0,526.0 L457.0,527.5 L455.8,529.0 L455.1,530.5 L453.6,531.5 L451.9,532.6 L450.1,533.6 L449.7,534.7 L448.3,535.7 L447.6,537.4 L447.2,539.0 L446.5,540.7 L445.0,542.3 L444.8,544.0 L444.5,545.5 L447.1,547.0 L447.9,548.5 L449.5,550.0 L448.9,551.5 L447.3,553.0 L447.1,554.5 L447.1,556.0 L445.6,557.5 L445.3,559.0 L446.1,560.3 L447.8,561.6 L448.8,562.9 L449.3,564.2 L448.7,565.9 L447.9,567.6 L449.1,569.3 L448.0,571.0 L446.6,572.5 L445.4,574.0 L443.8,575.5 L443.3,577.0 L442.2,578.5 L439.6,580.0 L440.4,581.7 L440.2,583.4 L439.6,585.1 L439.5,586.9 L440.0,588.6 L439.0,590.3 L439.1,592.0 L439.0,593.8 L437.7,595.6 L439.4,597.4 L438.6,599.2 L438.4,601.0 L440.4,602.6 L442.6,604.2 L442.6,605.4 L444.2,606.6 L446.2,607.8 L446.6,609.0 L447.9,610.4 L449.5,611.8 L450.9,613.2 L452.8,613.8 L454.9,614.4 L457.1,615.0 L457.3,616.2 L458.3,617.5 L459.3,618.7 L459.8,620.7 L461.1,622.7 L461.4,624.7 L461.2,625.8 L463.8,626.8 L464.2,627.9 L465.5,628.9 L468.0,630.0 L466.7,631.9 L465.4,633.7 L466.4,635.2 L468.2,636.7 L466.1,638.5 L466.5,640.2 L465.2,642.0 L466.1,643.4 L466.5,644.8 L469.0,646.2 L467.7,647.4 L465.8,648.6 L463.6,649.8 L462.6,651.0 L462.7,652.4 L463.9,653.8 L465.5,655.3 L466.3,656.7 L464.9,658.1 L464.1,659.5 L462.7,660.9 L462.1,662.3 L460.9,663.7 L462.9,664.5 L463.9,665.2 L466.3,666.0 L464.9,667.7 L464.3,669.4 L463.3,671.1 L463.3,672.7 L464.1,674.6 L464.4,676.5 L463.3,678.0 L463.1,679.5 L461.8,681.0 L461.8,682.7 L462.2,684.5 L463.1,686.2 L460.7,687.4 L459.9,688.5 L457.5,689.7 L458.5,691.3 L459.8,692.8 L460.6,694.4 L461.3,695.9 L462.0,697.5 L463.5,698.7 L464.6,700.0 L465.9,701.2 L467.5,702.5 L468.4,703.7 L469.8,705.0 L469.6,707.0 L470.0,709.0 L470.3,711.0 L471.2,712.4 L472.2,713.8 L472.2,715.3 L473.5,716.7 L472.8,718.3 L472.7,719.8 L471.8,721.4 L470.5,723.0 L470.7,725.0 L470.6,727.0 L470.0,729.0 L471.3,730.9 L471.3,732.7 L469.3,734.2 L468.9,735.7 L467.9,737.2 L465.9,738.7 L467.1,740.7 L465.9,742.7 L468.8,744.7 L467.2,746.5 L467.8,748.2 L468.0,750.0 L469.1,751.1 L471.6,752.2 L472.5,753.3 L471.3,754.7 L469.8,756.1 L470.4,757.5 L471.5,758.9 L471.7,760.3 L472.8,761.7 L472.3,763.0 L470.5,764.2 L469.7,765.5 L468.4,766.7 L467.1,768.0 L466.8,770.0 L467.0,772.0 L466.4,774.0 L465.1,775.4 L463.4,776.7 L461.5,778.1 L460.8,779.5 L459.8,780.9 L459.3,782.2 L459.5,784.0 L459.5,785.8 L461.7,787.5 L462.8,789.3 L461.3,790.7 L460.1,792.1 L459.0,793.6 L457.7,795.0 L458.8,796.8 L458.0,798.6 L458.4,800.4 L458.4,802.2 L459.3,804.0 L459.9,806.0 L460.9,807.7 L462.4,809.5 L463.8,811.2 L462.1,813.0 L462.3,814.7 L461.4,816.5 L460.1,817.5 L458.8,818.5 L457.9,819.5 L457.7,821.1 L460.1,822.8 L460.1,824.4 L460.6,826.1 L461.0,827.7 L462.1,829.5 L461.6,831.2 L461.5,833.0 L461.7,834.9 L463.0,836.7 L463.5,838.6 L464.4,840.5 L464.1,842.2 L465.0,843.9 L465.0,845.6 L465.9,847.2 L465.6,848.9 L465.7,850.6 L465.6,852.3 L465.5,854.0 L466.1,855.5 L466.8,857.0 L467.1,858.5 L467.6,860.0 L468.3,861.5 L469.9,862.8 L471.0,864.2 L472.2,865.5 L474.0,866.9 L473.2,868.2 L475.2,869.7 L475.2,871.2 L476.6,872.7 L477.6,874.2 L479.0,875.7 L480.4,877.5 L481.3,879.2 L481.4,881.0 L483.3,882.2 L484.5,883.5 L485.1,884.7 L487.6,886.2 L487.5,887.7 L488.5,889.2 L489.7,890.7 L490.3,892.2 L491.4,893.7 L491.2,895.1 L489.5,896.4 L488.7,897.8 L487.3,899.1 L486.3,900.5 L487.2,902.2 L487.0,903.9 L486.3,905.6 L487.1,907.2 L486.6,908.7 L488.2,910.2 L488.7,911.7 L500.0,917.7 L501.9,918.4 L503.9,919.4 L507.1,920.5 L510.2,921.6 L512.8,922.8 L515.5,923.7 L516.5,924.6 L518.4,925.3 L519.4,926.0 L520.7,926.7 L522.3,927.5 L524.1,928.2 L526.0,929.1 L528.1,929.9 L530.8,930.8 L532.5,931.7 L533.6,932.6 L536.1,933.5 L537.4,934.4 L539.1,935.2 L541.2,936.1 L542.0,937.0 L542.6,937.9 L544.4,938.7 L544.9,939.6 L545.3,940.4 L545.9,941.2 L546.2,942.1 L546.5,943.0 L546.1,944.0 L545.5,945.1 L545.1,946.3 L542.8,947.6 L541.4,948.9 L540.1,950.2 L539.4,951.5 L537.6,952.8 L537.1,954.1 L535.0,955.4 L534.0,956.7 L533.5,957.9 L532.7,959.0 L532.5,960.0 L532.9,960.9 L533.3,961.7 L533.4,962.5 L533.8,963.3 L535.0,964.2 L535.3,965.3 L536.0,966.4 L537.5,967.6 L537.8,968.8 L539.3,969.9 L540.7,971.0 L541.8,971.9 L543.0,972.8 L544.9,973.6 L546.1,974.4 L547.7,975.3 L549.1,976.2 L551.7,977.4 L552.9,978.6 L555.3,980.0 L556.8,981.3 L558.1,982.6 L559.5,983.7 L560.0,984.8 L560.2,985.9 L559.7,986.8 L560.0,987.8 L560.0,988.8 L559.4,989.7 L559.0,990.8 L558.2,992.0 L556.8,993.1 L556.2,994.2 L554.1,995.1 L554.0,995.7 L536.0,1006.7 L535.1,1007.3 L534.0,1008.0 L532.5,1008.9 L531.0,1009.8 L529.4,1010.8 L527.9,1011.8 L526.6,1012.7 L525.5,1013.5 L524.7,1014.2 L524.0,1014.8 L523.4,1015.4 L522.9,1015.9 L522.5,1016.4 L522.2,1016.9 L521.9,1017.5 L521.7,1018.0 L521.6,1018.6 L521.6,1019.1 L521.6,1019.6 L521.7,1020.2 L521.9,1020.7 L522.2,1021.3 L522.6,1021.9 L523.2,1022.5 L524.0,1023.2 L524.9,1023.9 L525.9,1024.6 L527.1,1025.4 L528.4,1026.1 L529.8,1026.9 L531.3,1027.7 L533.0,1028.5 L534.9,1029.3 L536.9,1030.1 L539.1,1031.0 L541.5,1031.8 L543.9,1032.7 L546.3,1033.5 L548.7,1034.4 L551.0,1035.2 L553.3,1036.1 L555.6,1037.0 L558.0,1037.8 L560.4,1038.7 L562.7,1039.5 L564.9,1040.4 L567.0,1041.2 L569.0,1042.0 L570.8,1042.8 L572.6,1043.6 L574.3,1044.4 L575.9,1045.1 L577.4,1045.9 L578.8,1046.6 L580.0,1047.3 L581.0,1048.0 L581.9,1048.6 L582.5,1049.2 L583.1,1049.8 L583.5,1050.4 L583.8,1050.9 L584.0,1051.5 L584.2,1052.0 L584.3,1052.5 L584.4,1053.0 L584.5,1053.5 L584.6,1053.9 L584.6,1054.4 L584.5,1054.8 L584.2,1055.3 L583.8,1055.8 L583.2,1056.2 L582.5,1056.8 L581.7,1057.3 L580.7,1057.9 L579.5,1058.5 L578.3,1059.0 L576.8,1059.6 L575.2,1060.2 L573.5,1060.7 L571.6,1061.3 L569.6,1061.9 L567.4,1062.4 L565.0,1063.0 L562.5,1063.6 L559.8,1064.1 L557.0,1064.7 L554.0,1065.2 L550.8,1065.8 L547.2,1066.4 L543.5,1067.0 L539.7,1067.5 L535.7,1068.1 L531.7,1068.7 L527.8,1069.2 L524.0,1069.7 L520.2,1070.3 L516.5,1070.8 L512.7,1071.2 L509.0,1071.7 L505.2,1072.2 L501.5,1072.6 L497.7,1073.1 L494.0,1073.5 L490.2,1073.9 L486.4,1074.4 L482.5,1074.8 L478.6,1075.2 L474.8,1075.6 L471.1,1076.0 L467.5,1076.4 L464.0,1076.8 L460.5,1077.2 L457.0,1077.5 L453.5,1077.9 L450.1,1078.3 L447.0,1078.6 L444.2,1078.9 L441.8,1079.2 L440.0,1079.3" fill="none" stroke="#0000ff" stroke-width="1.7" stroke-linejoin="round" stroke-linecap="butt"/>
<path d="M451.6,123.4 L451.7,129.8 L451.8,138.9 L451.9,149.5 L452.0,160.6 L452.1,171.2 L452.2,180.0 L452.3,187.0 L452.4,192.9 L452.6,198.2 L452.7,203.4 L452.7,208.8 L452.7,215.0 L452.6,221.9 L452.4,229.3 L452.1,236.9 L451.8,244.6 L451.5,252.4 L451.2,260.0 L450.8,267.7 L450.4,275.6 L449.9,283.4 L449.4,291.1 L449.1,298.4 L449.0,305.0 L449.1,311.0 L449.4,316.6 L449.8,321.7 L450.3,326.4 L450.8,330.9 L451.2,335.0 L451.6,338.7 L452.1,341.8 L452.5,344.7 L452.9,347.3 L453.1,350.1 L453.2,353.0 L453.0,356.0 L452.6,358.9 L452.1,361.9 L451.5,365.1 L451.0,368.5 L450.5,372.5 L450.1,376.3 L449.6,379.7 L449.1,383.5 L448.7,388.3 L448.4,394.9 L448.2,404.0 L448.1,416.2 L448.2,431.1 L448.3,447.7 L448.5,465.3 L448.6,483.0 L448.7,500.0 L448.7,517.6 L448.7,536.7 L448.7,556.0 L448.7,573.9 L448.7,589.1 L448.7,600.0 L449.7,622.5 L451.7,652.5 L452.7,682.5 L452.7,705.0 L451.2,735.0 L450.2,765.0 L450.2,787.5 L451.2,822.5 L451.3,824.1 L451.3,826.2 L451.4,828.8 L451.4,831.7 L451.5,834.6 L451.5,837.4 L451.6,839.9 L451.7,842.0 L451.8,843.6 L451.9,845.0 L451.9,846.1 L452.0,847.2 L452.1,848.1 L452.3,849.0 L452.5,849.9 L452.7,851.0 L453.1,852.1 L453.4,853.2 L453.8,854.3 L454.2,855.4 L454.6,856.5 L455.2,857.6 L455.8,858.8 L456.5,860.0 L457.3,861.2 L458.2,862.5 L459.3,863.8 L460.3,865.1 L461.5,866.4 L462.6,867.7 L463.7,869.1 L464.7,870.5 L465.8,871.9 L466.9,873.5 L467.9,875.0 L469.0,876.6 L470.1,878.2 L471.1,879.7 L472.1,881.1 L473.0,882.5 L473.9,883.8 L474.7,885.0 L475.6,886.2 L476.4,887.4 L477.1,888.5 L477.8,889.5 L478.4,890.5 L479.0,891.5 L479.5,892.4 L479.9,893.2 L480.3,893.9 L480.5,894.6 L480.8,895.3 L481.0,896.0 L481.1,896.7 L481.2,897.5 L481.3,898.4 L481.2,899.3 L481.1,900.3 L480.9,901.2 L480.7,902.2 L480.6,903.2 L480.5,904.1 L480.5,905.0 L480.5,905.8 L480.6,906.6 L480.6,907.4 L480.7,908.1 L480.9,908.8 L481.2,909.5 L481.5,910.3 L482.0,911.0 L482.6,911.7 L483.3,912.5 L484.1,913.2 L485.0,913.9 L486.0,914.6 L487.1,915.4 L488.2,916.2 L489.5,917.0 L490.9,917.9 L492.5,918.8 L494.1,919.7 L495.9,920.7 L497.7,921.6 L499.5,922.6 L501.3,923.6 L503.0,924.5 L504.7,925.4 L506.5,926.4 L508.3,927.4 L510.0,928.3 L511.8,929.3 L513.4,930.2 L515.0,931.1 L516.5,932.0 L517.9,932.8 L519.2,933.6 L520.4,934.4 L521.6,935.1 L522.7,935.8 L523.7,936.5 L524.7,937.3 L525.5,938.0 L526.3,938.7 L526.9,939.5 L527.5,940.2 L528.0,941.0 L528.4,941.7 L528.8,942.5 L529.0,943.2 L529.2,944.0 L529.4,944.7 L529.5,945.5 L529.5,946.2 L529.4,946.9 L529.3,947.6 L529.1,948.4 L528.8,949.2 L528.5,950.0 L528.1,950.9 L527.5,951.8 L526.9,952.8 L526.2,953.7 L525.5,954.7 L524.9,955.7 L524.4,956.6 L524.0,957.5 L523.7,958.3 L523.5,959.1 L523.4,959.8 L523.3,960.5 L523.4,961.3 L523.5,962.0 L523.7,962.7 L524.0,963.5 L524.4,964.3 L525.0,965.1 L525.6,966.0 L526.3,966.8 L527.2,967.7 L528.0,968.5 L529.0,969.4 L530.0,970.2 L531.1,971.1 L532.3,971.9 L533.7,972.8 L535.1,973.6 L536.5,974.5 L537.9,975.3 L539.2,976.2 L540.5,977.0 L541.7,977.8 L543.0,978.7 L544.2,979.6 L545.4,980.4 L546.5,981.3 L547.6,982.1 L548.6,982.9 L549.5,983.7 L550.3,984.5 L551.1,985.3 L551.7,986.1 L552.4,986.8 L552.9,987.5 L553.3,988.3 L553.7,989.0 L554.0,989.7 L554.2,990.5 L554.4,991.1 L554.5,991.8 L554.5,992.4 L554.4,993.1 L554.2,993.9 L553.8,994.8 L553.2,995.7 L552.4,996.9 L551.3,998.2 L550.0,999.7 L548.6,1001.2 L547.1,1002.7 L545.7,1004.1 L544.5,1005.5 L543.5,1006.7 L542.7,1007.9 L542.0,1008.9 L541.4,1009.9 L540.8,1010.8 L540.4,1011.6 L540.1,1012.5 L539.9,1013.4 L539.7,1014.2 L539.8,1015.1 L539.9,1016.0 L540.1,1016.9 L540.4,1017.7 L540.8,1018.6 L541.4,1019.4 L542.0,1020.2 L542.7,1021.0 L543.6,1021.8 L544.6,1022.5 L545.6,1023.3 L546.8,1024.0 L548.1,1024.7 L549.4,1025.5 L550.9,1026.2 L552.5,1027.0 L554.2,1027.8 L556.0,1028.6 L557.9,1029.4 L560.0,1030.3 L562.1,1031.1 L564.3,1032.0 L566.6,1032.9 L569.0,1033.7 L571.5,1034.7 L574.2,1035.6 L577.0,1036.5 L579.9,1037.5 L582.8,1038.4 L585.7,1039.4 L588.6,1040.3 L591.5,1041.2 L594.4,1042.2 L597.3,1043.1 L600.3,1044.1 L603.2,1045.0 L606.1,1045.9 L608.9,1046.9 L611.5,1047.8 L614.0,1048.7 L616.3,1049.7 L618.5,1050.6 L620.6,1051.6 L622.5,1052.5 L624.4,1053.5 L626.1,1054.4 L627.6,1055.3 L629.0,1056.2 L630.2,1057.1 L631.3,1058.0 L632.3,1058.8 L633.1,1059.7 L633.8,1060.5 L634.3,1061.3 L634.7,1062.2 L635.0,1063.0 L635.1,1063.8 L635.1,1064.7 L634.9,1065.5 L634.6,1066.4 L634.2,1067.2 L633.6,1068.1 L632.9,1068.9 L632.0,1069.7 L631.0,1070.6 L629.8,1071.4 L628.6,1072.3 L627.1,1073.1 L625.6,1074.0 L623.8,1074.8 L622.0,1075.7 L620.0,1076.5 L617.9,1077.3 L615.6,1078.2 L613.2,1079.0 L610.6,1079.9 L607.9,1080.7 L605.1,1081.6 L602.1,1082.4 L599.0,1083.2 L595.7,1084.1 L592.3,1084.9 L588.7,1085.8 L585.0,1086.6 L581.2,1087.5 L577.2,1088.3 L573.2,1089.2 L569.0,1090.0 L564.7,1090.8 L560.2,1091.7 L555.5,1092.6 L550.7,1093.4 L545.9,1094.3 L541.1,1095.1 L536.2,1095.9 L531.5,1096.7 L526.8,1097.5 L521.9,1098.3 L517.1,1099.1 L512.3,1099.9 L507.5,1100.7 L502.8,1101.4 L498.3,1102.1 L494.0,1102.7 L489.8,1103.4 L485.8,1103.9 L481.9,1104.5 L478.2,1105.0 L474.5,1105.5 L470.9,1106.0 L467.4,1106.5 L464.0,1106.9 L460.5,1107.5 L457.0,1108.0 L453.5,1108.5 L450.1,1109.0 L447.0,1109.5 L444.2,1109.9 L441.8,1110.3 L440.0,1110.5" fill="none" stroke="#008000" stroke-width="1.7" stroke-linejoin="round" stroke-linecap="butt"/>
<path d="M446.4,123.4 L446.9,222.0 L447.2,404.0 L447.3,500.0 L446.5,604.0 L446.4,630.0 L447.2,675.0 L446.7,735.0 L447.2,780.0 L447.8,830.0 L447.8,831.2 L447.8,832.7 L447.9,834.5 L447.9,836.6 L447.9,838.7 L448.0,840.9 L448.1,843.0 L448.2,845.0 L448.4,846.9 L448.6,848.8 L448.8,850.7 L449.0,852.6 L449.3,854.5 L449.6,856.4 L450.0,858.2 L450.5,860.0 L451.1,861.8 L451.8,863.5 L452.5,865.2 L453.3,866.9 L454.1,868.6 L455.0,870.3 L455.8,871.9 L456.5,873.5 L457.2,875.1 L457.9,876.7 L458.6,878.3 L459.3,879.9 L459.9,881.4 L460.6,882.9 L461.2,884.2 L461.7,885.5 L462.3,886.7 L462.9,887.7 L463.4,888.7 L463.9,889.6 L464.4,890.5 L464.8,891.3 L465.2,892.2 L465.5,893.0 L465.7,893.8 L465.9,894.6 L466.1,895.4 L466.2,896.1 L466.2,896.8 L466.2,897.5 L466.2,898.3 L466.2,899.0 L466.2,899.7 L466.1,900.5 L465.9,901.2 L465.7,901.9 L465.6,902.6 L465.5,903.4 L465.4,904.2 L465.5,905.0 L465.7,905.9 L465.8,906.7 L466.1,907.6 L466.4,908.6 L466.8,909.5 L467.2,910.5 L467.8,911.5 L468.5,912.5 L469.3,913.6 L470.3,914.6 L471.4,915.8 L472.5,916.9 L473.8,918.1 L475.0,919.2 L476.3,920.4 L477.5,921.5 L478.8,922.6 L480.1,923.8 L481.5,924.9 L482.8,926.1 L484.2,927.2 L485.6,928.4 L486.8,929.4 L488.0,930.5 L489.1,931.5 L490.2,932.5 L491.2,933.5 L492.2,934.4 L493.1,935.3 L494.0,936.2 L494.8,937.1 L495.5,938.0 L496.1,938.9 L496.7,939.7 L497.2,940.6 L497.6,941.4 L497.9,942.3 L498.2,943.1 L498.4,943.9 L498.5,944.7 L498.5,945.6 L498.5,946.4 L498.3,947.2 L498.1,948.1 L497.9,948.9 L497.6,949.8 L497.3,950.6 L497.0,951.5 L496.7,952.4 L496.2,953.4 L495.8,954.3 L495.3,955.3 L494.9,956.3 L494.5,957.2 L494.2,958.1 L494.0,959.0 L493.9,959.8 L494.0,960.6 L494.0,961.3 L494.2,962.0 L494.4,962.7 L494.7,963.4 L495.1,964.2 L495.5,965.0 L496.0,965.9 L496.6,966.8 L497.4,967.7 L498.1,968.7 L498.9,969.6 L499.8,970.6 L500.6,971.6 L501.5,972.5 L502.4,973.4 L503.3,974.4 L504.3,975.3 L505.2,976.3 L506.2,977.2 L507.2,978.2 L508.1,979.1 L509.0,980.0 L509.8,980.9 L510.7,981.8 L511.5,982.6 L512.3,983.5 L513.1,984.3 L513.8,985.1 L514.4,985.9 L515.0,986.7 L515.5,987.5 L515.9,988.3 L516.2,989.1 L516.5,989.8 L516.8,990.6 L517.0,991.3 L517.1,992.0 L517.2,992.7 L517.3,993.4 L517.3,994.0 L517.3,994.6 L517.2,995.2 L517.1,995.8 L517.0,996.4 L516.8,997.1 L516.5,998.0 L516.1,999.0 L515.7,1000.1 L515.1,1001.3 L514.6,1002.6 L514.0,1003.9 L513.5,1005.2 L513.1,1006.4 L512.7,1007.5 L512.5,1008.5 L512.4,1009.5 L512.2,1010.5 L512.2,1011.4 L512.2,1012.3 L512.3,1013.2 L512.5,1014.1 L512.7,1015.0 L513.1,1015.9 L513.5,1016.9 L514.0,1017.8 L514.5,1018.7 L515.2,1019.7 L516.0,1020.6 L516.9,1021.6 L518.0,1022.5 L519.3,1023.4 L520.7,1024.4 L522.2,1025.3 L523.9,1026.2 L525.6,1027.2 L527.5,1028.1 L529.5,1029.1 L531.5,1030.0 L533.6,1030.9 L535.9,1031.9 L538.3,1032.8 L540.8,1033.7 L543.3,1034.7 L545.9,1035.6 L548.4,1036.6 L551.0,1037.5 L553.6,1038.4 L556.2,1039.4 L558.8,1040.3 L561.5,1041.2 L564.2,1042.2 L566.8,1043.1 L569.4,1044.1 L572.0,1045.0 L574.5,1045.9 L577.1,1046.9 L579.6,1047.8 L582.1,1048.7 L584.6,1049.7 L587.0,1050.6 L589.3,1051.6 L591.5,1052.5 L593.6,1053.4 L595.7,1054.3 L597.7,1055.2 L599.7,1056.2 L601.5,1057.1 L603.3,1058.0 L604.9,1059.0 L606.5,1060.0 L608.0,1061.1 L609.3,1062.1 L610.6,1063.3 L611.7,1064.4 L612.8,1065.6 L613.8,1066.7 L614.7,1067.9 L615.5,1069.0 L616.2,1070.1 L616.9,1071.3 L617.4,1072.4 L617.9,1073.6 L618.2,1074.7 L618.5,1075.9 L618.7,1076.9 L618.8,1078.0 L618.8,1079.0 L618.7,1080.0 L618.6,1080.9 L618.3,1081.8 L618.0,1082.8 L617.5,1083.7 L617.0,1084.6 L616.2,1085.5 L615.4,1086.4 L614.5,1087.3 L613.5,1088.2 L612.4,1089.1 L611.2,1090.0 L609.8,1090.9 L608.2,1091.9 L606.5,1093.0 L604.6,1094.2 L602.5,1095.4 L600.2,1096.8 L597.7,1098.2 L595.2,1099.5 L592.5,1100.9 L589.8,1102.2 L587.0,1103.5 L584.1,1104.7 L581.2,1105.8 L578.1,1106.9 L574.9,1107.9 L571.7,1109.0 L568.3,1110.1 L564.9,1111.2 L561.5,1112.5 L558.0,1113.9 L554.3,1115.3 L550.6,1116.7 L546.8,1118.3 L542.9,1119.8 L539.1,1121.4 L535.3,1122.9 L531.5,1124.5 L527.7,1126.0 L524.0,1127.6 L520.2,1129.2 L516.5,1130.7 L512.7,1132.3 L509.0,1133.9 L505.2,1135.6 L501.5,1137.2 L497.7,1139.0 L493.8,1140.8 L489.8,1142.6 L485.8,1144.5 L482.0,1146.4 L478.3,1148.2 L474.7,1149.9 L471.5,1151.5 L468.5,1153.0 L465.7,1154.5 L463.1,1155.9 L460.6,1157.2 L458.3,1158.5 L456.1,1159.7 L454.0,1160.9 L452.0,1162.0 L450.1,1163.1 L448.2,1164.2 L446.4,1165.3 L444.8,1166.3 L443.3,1167.2 L442.0,1168.0 L440.9,1168.7 L440.0,1169.2" fill="none" stroke="#ff0000" stroke-width="1.7" stroke-linejoin="round" stroke-linecap="butt"/>
</g>
<rect x="441.5" y="123.5" width="255.0" height="1075.0" fill="none" stroke="#000" stroke-width="1.12"/>
<line x1="446.00" y1="1198.5" x2="446.00" y2="1204.0" stroke="#000" stroke-width="2.0"/>
<line x1="446.00" y1="123.5" x2="446.00" y2="117.0" stroke="#000" stroke-width="2.0"/>
<text x="441.15" y="1220.20" font-size="17.6" font-family='"Liberation Serif", serif' fill="#000" textLength="9.40" lengthAdjust="spacingAndGlyphs" stroke="#000" stroke-width="0.16" >0</text>
<line x1="546.00" y1="1198.5" x2="546.00" y2="1204.0" stroke="#000" stroke-width="2.0"/>
<line x1="546.00" y1="123.5" x2="546.00" y2="117.0" stroke="#000" stroke-width="2.0"/>
<text x="535.91" y="1220.20" font-size="17.6" font-family='"Liberation Serif", serif' fill="#000" textLength="20.10" lengthAdjust="spacingAndGlyphs" stroke="#000" stroke-width="0.16" >20</text>
<line x1="646.00" y1="1198.5" x2="646.00" y2="1204.0" stroke="#000" stroke-width="2.0"/>
<line x1="646.00" y1="123.5" x2="646.00" y2="117.0" stroke="#000" stroke-width="2.0"/>
<text x="636.03" y="1220.20" font-size="17.6" font-family='"Liberation Serif", serif' fill="#000" textLength="20.10" lengthAdjust="spacingAndGlyphs" stroke="#000" stroke-width="0.16" >40</text>
<line x1="441.5" y1="1198.00" x2="435.0" y2="1198.00" stroke="#000" stroke-width="2.0"/>
<line x1="696.5" y1="1198.00" x2="702.0" y2="1198.00" stroke="#000" stroke-width="2.0"/>
<text x="421.70" y="1204.70" font-size="17.6" font-family='"Liberation Serif", serif' fill="#000" textLength="9.90" lengthAdjust="spacingAndGlyphs" stroke="#000" stroke-width="0.16" >0</text>
<line x1="441.5" y1="983.00" x2="435.0" y2="983.00" stroke="#000" stroke-width="2.0"/>
<line x1="696.5" y1="983.00" x2="702.0" y2="983.00" stroke="#000" stroke-width="2.0"/>
<text x="421.70" y="989.70" font-size="17.6" font-family='"Liberation Serif", serif' fill="#000" textLength="9.90" lengthAdjust="spacingAndGlyphs" stroke="#000" stroke-width="0.16" >1</text>
<line x1="441.5" y1="768.00" x2="435.0" y2="768.00" stroke="#000" stroke-width="2.0"/>
<line x1="696.5" y1="768.00" x2="702.0" y2="768.00" stroke="#000" stroke-width="2.0"/>
<text x="421.70" y="774.70" font-size="17.6" font-family='"Liberation Serif", serif' fill="#000" textLength="9.90" lengthAdjust="spacingAndGlyphs" stroke="#000" stroke-width="0.16" >2</text>
<line x1="441.5" y1="553.00" x2="435.0" y2="553.00" stroke="#000" stroke-width="2.0"/>
<line x1="696.5" y1="553.00" x2="702.0" y2="553.00" stroke="#000" stroke-width="2.0"/>
<text x="421.70" y="559.70" font-size="17.6" font-family='"Liberation Serif", serif' fill="#000" textLength="9.90" lengthAdjust="spacingAndGlyphs" stroke="#000" stroke-width="0.16" >3</text>
<line x1="441.5" y1="338.00" x2="435.0" y2="338.00" stroke="#000" stroke-width="2.0"/>
<line x1="696.5" y1="338.00" x2="702.0" y2="338.00" stroke="#000" stroke-width="2.0"/>
<text x="421.70" y="344.70" font-size="17.6" font-family='"Liberation Serif", serif' fill="#000" textLength="9.90" lengthAdjust="spacingAndGlyphs" stroke="#000" stroke-width="0.16" >4</text>
<line x1="441.5" y1="123.00" x2="435.0" y2="123.00" stroke="#000" stroke-width="2.0"/>
<line x1="696.5" y1="123.00" x2="702.0" y2="123.00" stroke="#000" stroke-width="2.0"/>
<text x="421.70" y="129.70" font-size="17.6" font-family='"Liberation Serif", serif' fill="#000" textLength="9.90" lengthAdjust="spacingAndGlyphs" stroke="#000" stroke-width="0.16" >5</text>
<line x1="750.50" y1="123.5" x2="750.50" y2="1198.5" stroke="#b6b6b6" stroke-width="1"/>
<line x1="801.50" y1="123.5" x2="801.50" y2="1198.5" stroke="#b6b6b6" stroke-width="1"/>
<line x1="852.50" y1="123.5" x2="852.50" y2="1198.5" stroke="#b6b6b6" stroke-width="1"/>
<line x1="903.50" y1="123.5" x2="903.50" y2="1198.5" stroke="#b6b6b6" stroke-width="1"/>
<line x1="954.50" y1="123.5" x2="954.50" y2="1198.5" stroke="#b6b6b6" stroke-width="1"/>
<line x1="1005.50" y1="123.5" x2="1005.50" y2="1198.5" stroke="#b6b6b6" stroke-width="1"/>
<line x1="750.5" y1="1198.50" x2="1005.5" y2="1198.50" stroke="#b6b6b6" stroke-width="1"/>
<line x1="750.5" y1="983.50" x2="1005.5" y2="983.50" stroke="#b6b6b6" stroke-width="1"/>
<line x1="750.5" y1="768.50" x2="1005.5" y2="768.50" stroke="#b6b6b6" stroke-width="1"/>
<line x1="750.5" y1="553.50" x2="1005.5" y2="553.50" stroke="#b6b6b6" stroke-width="1"/>
<line x1="750.5" y1="338.50" x2="1005.5" y2="338.50" stroke="#b6b6b6" stroke-width="1"/>
<line x1="750.5" y1="123.50" x2="1005.5" y2="123.50" stroke="#b6b6b6" stroke-width="1"/>
<g clip-path="url(#clip2)">
</g>
<rect x="750.5" y="123.5" width="255.0" height="1075.0" fill="none" stroke="#000" stroke-width="1.12"/>
<line x1="750.00" y1="1198.5" x2="750.00" y2="1204.0" stroke="#000" stroke-width="2.0"/>
<line x1="750.00" y1="123.5" x2="750.00" y2="117.0" stroke="#000" stroke-width="2.0"/>
<text x="745.08" y="1220.20" font-size="17.6" font-family='"Liberation Serif", serif' fill="#000" textLength="9.40" lengthAdjust="spacingAndGlyphs" stroke="#000" stroke-width="0.16" >0</text>
<line x1="801.00" y1="1198.5" x2="801.00" y2="1204.0" stroke="#000" stroke-width="2.0"/>
<line x1="801.00" y1="123.5" x2="801.00" y2="117.0" stroke="#000" stroke-width="2.0"/>
<text x="790.79" y="1220.20" font-size="17.6" font-family='"Liberation Serif", serif' fill="#000" textLength="20.10" lengthAdjust="spacingAndGlyphs" stroke="#000" stroke-width="0.16" >20</text>
<line x1="852.00" y1="1198.5" x2="852.00" y2="1204.0" stroke="#000" stroke-width="2.0"/>
<line x1="852.00" y1="123.5" x2="852.00" y2="117.0" stroke="#000" stroke-width="2.0"/>
<text x="841.85" y="1220.20" font-size="17.6" font-family='"Liberation Serif", serif' fill="#000" textLength="20.10" lengthAdjust="spacingAndGlyphs" stroke="#000" stroke-width="0.16" >40</text>
<line x1="903.00" y1="1198.5" x2="903.00" y2="1204.0" stroke="#000" stroke-width="2.0"/>
<line x1="903.00" y1="123.5" x2="903.00" y2="117.0" stroke="#000" stroke-width="2.0"/>
<text x="892.91" y="1220.20" font-size="17.6" font-family='"Liberation Serif", serif' fill="#000" textLength="20.10" lengthAdjust="spacingAndGlyphs" stroke="#000" stroke-width="0.16" >60</text>
<line x1="954.00" y1="1198.5" x2="954.00" y2="1204.0" stroke="#000" stroke-width="2.0"/>
<line x1="954.00" y1="123.5" x2="954.00" y2="117.0" stroke="#000" stroke-width="2.0"/>
<text x="943.97" y="1220.20" font-size="17.6" font-family='"Liberation Serif", serif' fill="#000" textLength="20.10" lengthAdjust="spacingAndGlyphs" stroke="#000" stroke-width="0.16" >80</text>
<line x1="1005.00" y1="1198.5" x2="1005.00" y2="1204.0" stroke="#000" stroke-width="2.0"/>
<line x1="1005.00" y1="123.5" x2="1005.00" y2="117.0" stroke="#000" stroke-width="2.0"/>
<text x="989.68" y="1220.20" font-size="17.6" font-family='"Liberation Serif", serif' fill="#000" textLength="30.80" lengthAdjust="spacingAndGlyphs" stroke="#000" stroke-width="0.16" >100</text>
<line x1="750.5" y1="1198.00" x2="744.0" y2="1198.00" stroke="#000" stroke-width="2.0"/>
<line x1="1005.5" y1="1198.00" x2="1011.0" y2="1198.00" stroke="#000" stroke-width="2.0"/>
<text x="730.70" y="1204.70" font-size="17.6" font-family='"Liberation Serif", serif' fill="#000" textLength="9.90" lengthAdjust="spacingAndGlyphs" stroke="#000" stroke-width="0.16" >0</text>
<line x1="750.5" y1="983.00" x2="744.0" y2="983.00" stroke="#000" stroke-width="2.0"/>
<line x1="1005.5" y1="983.00" x2="1011.0" y2="983.00" stroke="#000" stroke-width="2.0"/>
<text x="730.70" y="989.70" font-size="17.6" font-family='"Liberation Serif", serif' fill="#000" textLength="9.90" lengthAdjust="spacingAndGlyphs" stroke="#000" stroke-width="0.16" >1</text>
<line x1="750.5" y1="768.00" x2="744.0" y2="768.00" stroke="#000" stroke-width="2.0"/>
<line x1="1005.5" y1="768.00" x2="1011.0" y2="768.00" stroke="#000" stroke-width="2.0"/>
<text x="730.70" y="774.70" font-size="17.6" font-family='"Liberation Serif", serif' fill="#000" textLength="9.90" lengthAdjust="spacingAndGlyphs" stroke="#000" stroke-width="0.16" >2</text>
<line x1="750.5" y1="553.00" x2="744.0" y2="553.00" stroke="#000" stroke-width="2.0"/>
<line x1="1005.5" y1="553.00" x2="1011.0" y2="553.00" stroke="#000" stroke-width="2.0"/>
<text x="730.70" y="559.70" font-size="17.6" font-family='"Liberation Serif", serif' fill="#000" textLength="9.90" lengthAdjust="spacingAndGlyphs" stroke="#000" stroke-width="0.16" >3</text>
<line x1="750.5" y1="338.00" x2="744.0" y2="338.00" stroke="#000" stroke-width="2.0"/>
<line x1="1005.5" y1="338.00" x2="1011.0" y2="338.00" stroke="#000" stroke-width="2.0"/>
<text x="730.70" y="344.70" font-size="17.6" font-family='"Liberation Serif", serif' fill="#000" textLength="9.90" lengthAdjust="spacingAndGlyphs" stroke="#000" stroke-width="0.16" >4</text>
<line x1="750.5" y1="123.00" x2="744.0" y2="123.00" stroke="#000" stroke-width="2.0"/>
<line x1="1005.5" y1="123.00" x2="1011.0" y2="123.00" stroke="#000" stroke-width="2.0"/>
<text x="730.70" y="129.70" font-size="17.6" font-family='"Liberation Serif", serif' fill="#000" textLength="9.90" lengthAdjust="spacingAndGlyphs" stroke="#000" stroke-width="0.16" >5</text>
<line x1="1059.50" y1="123.5" x2="1059.50" y2="1198.5" stroke="#b6b6b6" stroke-width="1"/>
<line x1="1123.50" y1="123.5" x2="1123.50" y2="1198.5" stroke="#b6b6b6" stroke-width="1"/>
<line x1="1186.50" y1="123.5" x2="1186.50" y2="1198.5" stroke="#b6b6b6" stroke-width="1"/>
<line x1="1250.50" y1="123.5" x2="1250.50" y2="1198.5" stroke="#b6b6b6" stroke-width="1"/>
<line x1="1314.50" y1="123.5" x2="1314.50" y2="1198.5" stroke="#b6b6b6" stroke-width="1"/>
<line x1="1059.5" y1="1198.50" x2="1314.5" y2="1198.50" stroke="#b6b6b6" stroke-width="1"/>
<line x1="1059.5" y1="983.50" x2="1314.5" y2="983.50" stroke="#b6b6b6" stroke-width="1"/>
<line x1="1059.5" y1="768.50" x2="1314.5" y2="768.50" stroke="#b6b6b6" stroke-width="1"/>
<line x1="1059.5" y1="553.50" x2="1314.5" y2="553.50" stroke="#b6b6b6" stroke-width="1"/>
<line x1="1059.5" y1="338.50" x2="1314.5" y2="338.50" stroke="#b6b6b6" stroke-width="1"/>
<line x1="1059.5" y1="123.50" x2="1314.5" y2="123.50" stroke="#b6b6b6" stroke-width="1"/>
<g clip-path="url(#clip3)">
</g>
<rect x="1059.5" y="123.5" width="255.0" height="1075.0" fill="none" stroke="#000" stroke-width="1.12"/>
<line x1="1059.00" y1="1198.5" x2="1059.00" y2="1204.0" stroke="#000" stroke-width="2.0"/>
<line x1="1059.00" y1="123.5" x2="1059.00" y2="117.0" stroke="#000" stroke-width="2.0"/>
<text x="1048.27" y="1220.20" font-size="17.6" font-family='"Liberation Serif", serif' fill="#000" textLength="20.90" lengthAdjust="spacingAndGlyphs" stroke="#000" stroke-width="0.16" >−1</text>
<line x1="1123.00" y1="1198.5" x2="1123.00" y2="1204.0" stroke="#000" stroke-width="2.0"/>
<line x1="1123.00" y1="123.5" x2="1123.00" y2="117.0" stroke="#000" stroke-width="2.0"/>
<text x="1117.85" y="1220.20" font-size="17.6" font-family='"Liberation Serif", serif' fill="#000" textLength="9.40" lengthAdjust="spacingAndGlyphs" stroke="#000" stroke-width="0.16" >0</text>
<line x1="1186.00" y1="1198.5" x2="1186.00" y2="1204.0" stroke="#000" stroke-width="2.0"/>
<line x1="1186.00" y1="123.5" x2="1186.00" y2="117.0" stroke="#000" stroke-width="2.0"/>
<text x="1181.67" y="1220.20" font-size="17.6" font-family='"Liberation Serif", serif' fill="#000" textLength="9.40" lengthAdjust="spacingAndGlyphs" stroke="#000" stroke-width="0.16" >1</text>
<line x1="1250.00" y1="1198.5" x2="1250.00" y2="1204.0" stroke="#000" stroke-width="2.0"/>
<line x1="1250.00" y1="123.5" x2="1250.00" y2="117.0" stroke="#000" stroke-width="2.0"/>
<text x="1245.50" y="1220.20" font-size="17.6" font-family='"Liberation Serif", serif' fill="#000" textLength="9.40" lengthAdjust="spacingAndGlyphs" stroke="#000" stroke-width="0.16" >2</text>
<line x1="1314.00" y1="1198.5" x2="1314.00" y2="1204.0" stroke="#000" stroke-width="2.0"/>
<line x1="1314.00" y1="123.5" x2="1314.00" y2="117.0" stroke="#000" stroke-width="2.0"/>
<text x="1309.32" y="1220.20" font-size="17.6" font-family='"Liberation Serif", serif' fill="#000" textLength="9.40" lengthAdjust="spacingAndGlyphs" stroke="#000" stroke-width="0.16" >3</text>
<line x1="1059.5" y1="1198.00" x2="1053.0" y2="1198.00" stroke="#000" stroke-width="2.0"/>
<line x1="1314.5" y1="1198.00" x2="1320.0" y2="1198.00" stroke="#000" stroke-width="2.0"/>
<text x="1039.70" y="1204.70" font-size="17.6" font-family='"Liberation Serif", serif' fill="#000" textLength="9.90" lengthAdjust="spacingAndGlyphs" stroke="#000" stroke-width="0.16" >0</text>
<line x1="1059.5" y1="983.00" x2="1053.0" y2="983.00" stroke="#000" stroke-width="2.0"/>
<line x1="1314.5" y1="983.00" x2="1320.0" y2="983.00" stroke="#000" stroke-width="2.0"/>
<text x="1039.70" y="989.70" font-size="17.6" font-family='"Liberation Serif", serif' fill="#000" textLength="9.90" lengthAdjust="spacingAndGlyphs" stroke="#000" stroke-width="0.16" >1</text>
<line x1="1059.5" y1="768.00" x2="1053.0" y2="768.00" stroke="#000" stroke-width="2.0"/>
<line x1="1314.5" y1="768.00" x2="1320.0" y2="768.00" stroke="#000" stroke-width="2.0"/>
<text x="1039.70" y="774.70" font-size="17.6" font-family='"Liberation Serif", serif' fill="#000" textLength="9.90" lengthAdjust="spacingAndGlyphs" stroke="#000" stroke-width="0.16" >2</text>
<line x1="1059.5" y1="553.00" x2="1053.0" y2="553.00" stroke="#000" stroke-width="2.0"/>
<line x1="1314.5" y1="553.00" x2="1320.0" y2="553.00" stroke="#000" stroke-width="2.0"/>
<text x="1039.70" y="559.70" font-size="17.6" font-family='"Liberation Serif", serif' fill="#000" textLength="9.90" lengthAdjust="spacingAndGlyphs" stroke="#000" stroke-width="0.16" >3</text>
<line x1="1059.5" y1="338.00" x2="1053.0" y2="338.00" stroke="#000" stroke-width="2.0"/>
<line x1="1314.5" y1="338.00" x2="1320.0" y2="338.00" stroke="#000" stroke-width="2.0"/>
<text x="1039.70" y="344.70" font-size="17.6" font-family='"Liberation Serif", serif' fill="#000" textLength="9.90" lengthAdjust="spacingAndGlyphs" stroke="#000" stroke-width="0.16" >4</text>
<line x1="1059.5" y1="123.00" x2="1053.0" y2="123.00" stroke="#000" stroke-width="2.0"/>
<line x1="1314.5" y1="123.00" x2="1320.0" y2="123.00" stroke="#000" stroke-width="2.0"/>
<text x="1039.70" y="129.70" font-size="17.6" font-family='"Liberation Serif", serif' fill="#000" textLength="9.90" lengthAdjust="spacingAndGlyphs" stroke="#000" stroke-width="0.16" >5</text>
<line x1="1368.50" y1="123.5" x2="1368.50" y2="1198.5" stroke="#b6b6b6" stroke-width="1"/>
<line x1="1453.50" y1="123.5" x2="1453.50" y2="1198.5" stroke="#b6b6b6" stroke-width="1"/>
<line x1="1538.50" y1="123.5" x2="1538.50" y2="1198.5" stroke="#b6b6b6" stroke-width="1"/>
<line x1="1623.50" y1="123.5" x2="1623.50" y2="1198.5" stroke="#b6b6b6" stroke-width="1"/>
<line x1="1368.5" y1="1198.50" x2="1623.5" y2="1198.50" stroke="#b6b6b6" stroke-width="1"/>
<line x1="1368.5" y1="983.50" x2="1623.5" y2="983.50" stroke="#b6b6b6" stroke-width="1"/>
<line x1="1368.5" y1="768.50" x2="1623.5" y2="768.50" stroke="#b6b6b6" stroke-width="1"/>
<line x1="1368.5" y1="553.50" x2="1623.5" y2="553.50" stroke="#b6b6b6" stroke-width="1"/>
<line x1="1368.5" y1="338.50" x2="1623.5" y2="338.50" stroke="#b6b6b6" stroke-width="1"/>
<line x1="1368.5" y1="123.50" x2="1623.5" y2="123.50" stroke="#b6b6b6" stroke-width="1"/>
<g clip-path="url(#clip4)">
<path d="M1370.0,135.0 L1385.7,139.5 L1376.0,141.0 L1505.0,142.5 L1373.0,144.0 L1372.3,146.2 L1372.7,148.5 L1371.3,150.7 L1371.1,153.0 L1369.1,155.2 L1369.8,157.5 L1369.5,160.0 L1370.6,162.5 L1369.8,165.0 L1369.5,167.5 L1368.7,170.0 L1368.5,172.5 L1370.6,174.6 L1373.2,176.7 L1371.5,178.8 L1372.0,180.9 L1377.9,183.0 L1379.4,184.9 L1380.4,186.7 L1382.0,188.6 L1383.1,190.5 L1384.7,192.4 L1385.4,194.2 L1388.6,196.1 L1389.3,198.0 L1389.9,198.7 L1393.5,199.5 L1395.8,200.2 L1397.9,201.0 L1398.3,201.9 L1395.3,202.8 L1389.2,203.7 L1390.6,204.6 L1389.0,205.5 L1391.8,206.5 L1393.8,207.5 L1393.6,208.5 L1399.0,209.2 L1400.8,209.8 L1404.8,210.5 L1406.0,211.2 L1385.0,214.2 L1383.5,218.2 L1372.2,219.0 L1611.5,220.8 L1370.0,222.7 L1382.7,223.5 L1370.0,225.0 L1383.5,227.2 L1397.0,231.0 L1412.0,235.5 L1435.2,238.2 L1401.5,242.2 L1403.0,244.5 L1388.7,247.5 L1379.7,250.5 L1382.0,252.0 L1435.2,254.2 L1365.5,255.7 L1365.5,260.2 L1515.5,262.5 L1365.5,264.7 L1365.5,276.7 L1421.0,278.2 L1365.5,279.7 L1365.5,283.5 L1593.5,285.0 L1389.5,292.5 L1646.0,293.2 L1646.0,295.5 L1365.5,297.0 L1365.5,305.2 L1496.0,306.7 L1365.5,308.7 L1415.0,309.3 L1391.0,312.0 L1376.0,315.7 L1384.2,319.8 L1372.2,323.2 L1385.0,320.0 L1374.5,323.0 L1370.0,326.7 L1369.2,330.5 L1368.5,337.2 L1376.0,338.7 L1368.5,340.2 L1365.5,341.0 L1365.5,362.0 L1395.5,363.8 L1374.5,367.7 L1382.0,369.5 L1521.5,371.7 L1365.5,373.2 L1365.5,376.7 L1442.7,377.9 L1400.7,380.7 L1521.5,383.0 L1397.0,384.5 L1371.5,387.5 L1365.5,390.8 L1365.5,402.6 L1369.7,403.5 L1365.5,404.4 L1365.5,410.0 L1646.0,411.0 L1646.0,412.7 L1376.0,413.7 L1370.7,416.0 L1365.5,419.3 L1365.5,428.6 L1370.0,429.5 L1365.5,430.5 L1365.5,446.7 L1448.0,447.2 L1401.5,448.7 L1478.7,450.2 L1365.5,452.0 L1402.2,453.5 L1382.7,456.8 L1428.5,461.3 L1392.5,464.7 L1414.2,466.7 L1388.7,468.5 L1406.0,469.5 L1365.5,470.7 L1365.5,477.5 L1646.0,477.8 L1646.0,480.5 L1365.5,482.7 L1539.5,484.2 L1382.0,486.5 L1365.5,487.2 L1365.5,541.4 L1573.7,541.9 L1404.5,545.5 L1461.8,546.7 L1365.5,547.4 L1365.5,558.2 L1434.5,557.9 L1365.5,560.2 L1365.5,573.2 L1374.2,573.7 L1374.5,576.2 L1376.7,577.3 L1368.5,580.0 L1368.5,589.0 L1380.5,591.7 L1373.7,595.7 L1377.5,601.0 L1374.2,603.2 L1392.2,605.8 L1365.5,607.3 L1365.5,815.5 L1368.5,817.7 L1372.2,821.5 L1373.7,826.0 L1376.7,830.5 L1377.8,835.0 L1380.5,840.2 L1376.4,830.0 L1377.1,833.0 L1377.0,836.0 L1378.0,838.1 L1379.9,840.2 L1381.4,842.3 L1382.2,844.4 L1383.0,846.5 L1385.7,847.4 L1388.7,848.2 L1390.1,849.1 L1393.3,849.9 L1395.5,850.8 L1397.8,851.6 L1400.3,852.5 L1401.9,853.2 L1404.2,854.0 L1406.9,854.7 L1408.3,855.5 L1410.4,856.2 L1412.4,857.0 L1415.1,857.7 L1418.0,858.5 L1420.5,859.2 L1422.7,860.0 L1425.2,861.2 L1427.7,862.5 L1430.1,863.7 L1432.6,865.2 L1434.5,866.7 L1437.1,868.2 L1439.0,869.7 L1440.3,871.1 L1442.3,872.4 L1444.6,873.7 L1446.3,875.0 L1448.1,876.4 L1450.4,877.8 L1452.8,879.3 L1454.9,880.7 L1452.0,881.7 L1450.0,884.0 L1448.9,886.2 L1450.4,888.7 L1451.4,891.2 L1453.1,893.7 L1454.7,894.6 L1457.3,895.5 L1459.8,896.4 L1462.0,897.3 L1464.5,898.2 L1466.6,899.5 L1468.5,900.7 L1470.3,902.0 L1472.6,904.5 L1470.5,908.0 L1464.5,911.7 L1463.5,912.1 L1462.2,912.5 L1460.6,913.1 L1458.9,913.7 L1457.0,914.3 L1455.0,915.0 L1453.0,915.6 L1451.0,916.2 L1448.9,916.9 L1446.7,917.5 L1444.3,918.2 L1441.9,918.8 L1439.5,919.5 L1437.2,920.2 L1435.0,920.8 L1433.0,921.5 L1431.2,922.2 L1429.4,922.8 L1427.7,923.5 L1426.1,924.2 L1424.7,924.8 L1423.3,925.5 L1422.1,926.1 L1421.0,926.7 L1420.1,927.3 L1419.2,927.9 L1418.6,928.5 L1418.0,929.0 L1417.5,929.5 L1417.2,930.1 L1416.9,930.7 L1416.8,931.2 L1416.8,931.9 L1416.9,932.5 L1417.1,933.1 L1417.4,933.7 L1417.8,934.4 L1418.3,935.1 L1418.9,935.8 L1419.5,936.5 L1420.2,937.3 L1420.9,938.1 L1421.7,938.9 L1422.6,939.8 L1423.5,940.7 L1424.6,941.5 L1425.7,942.4 L1427.0,943.2 L1428.4,944.1 L1430.0,945.0 L1431.8,945.8 L1433.6,946.7 L1435.4,947.5 L1437.2,948.4 L1438.9,949.2 L1440.5,950.0 L1442.0,950.8 L1443.5,951.6 L1445.0,952.4 L1446.4,953.1 L1447.7,953.9 L1448.9,954.6 L1450.0,955.3 L1451.0,956.0 L1451.8,956.6 L1452.6,957.2 L1453.2,957.8 L1453.8,958.3 L1454.2,958.8 L1454.5,959.4 L1454.7,959.9 L1454.7,960.5 L1454.7,961.1 L1454.5,961.8 L1454.1,962.4 L1453.7,963.1 L1453.1,963.7 L1452.5,964.4 L1451.8,965.1 L1451.0,965.7 L1450.1,966.4 L1449.2,967.1 L1448.1,967.7 L1447.0,968.4 L1445.8,969.0 L1444.6,969.7 L1443.3,970.3 L1442.0,971.0 L1440.6,971.6 L1439.1,972.3 L1437.6,972.9 L1436.0,973.5 L1434.4,974.2 L1432.9,974.8 L1431.4,975.5 L1430.0,976.2 L1428.7,977.0 L1427.4,977.8 L1426.1,978.7 L1424.9,979.6 L1423.7,980.5 L1422.7,981.3 L1421.8,982.2 L1421.0,983.0 L1420.4,983.8 L1419.8,984.5 L1419.4,985.2 L1419.1,985.9 L1418.9,986.6 L1418.7,987.3 L1418.7,988.1 L1418.7,989.0 L1418.9,990.0 L1419.2,991.1 L1419.6,992.3 L1420.1,993.5 L1420.7,994.7 L1421.3,995.8 L1421.9,997.0 L1422.5,998.0 L1423.1,998.9 L1423.8,999.8 L1424.6,1000.7 L1425.4,1001.5 L1426.2,1002.3 L1426.9,1003.1 L1427.7,1003.9 L1428.5,1004.7 L1429.3,1005.6 L1430.2,1006.5 L1431.1,1007.4 L1432.1,1008.3 L1432.9,1009.2 L1433.6,1010.1 L1434.2,1011.0 L1434.5,1011.8 L1434.6,1012.6 L1434.6,1013.3 L1434.4,1014.1 L1434.0,1014.8 L1433.6,1015.5 L1433.0,1016.1 L1432.3,1016.8 L1431.5,1017.5 L1430.6,1018.2 L1429.5,1018.8 L1428.4,1019.5 L1427.1,1020.2 L1425.7,1020.8 L1424.2,1021.4 L1422.7,1022.1 L1421.0,1022.7 L1419.2,1023.4 L1417.3,1024.0 L1415.3,1024.7 L1413.1,1025.3 L1411.0,1026.0 L1408.8,1026.7 L1406.6,1027.3 L1404.5,1028.0 L1402.4,1028.7 L1400.3,1029.4 L1398.1,1030.1 L1396.0,1030.8 L1393.9,1031.5 L1391.8,1032.2 L1389.8,1033.0 L1388.0,1033.7 L1386.3,1034.5 L1384.6,1035.3 L1383.1,1036.2 L1381.6,1037.0 L1380.2,1037.9 L1378.8,1038.7 L1377.4,1039.6 L1376.0,1040.5 L1374.5,1041.5 L1373.0,1042.5 L1371.5,1043.6 L1370.0,1044.7 L1368.6,1045.7 L1367.4,1046.6 L1366.3,1047.4 L1365.5,1048.0 L1365.5,1078.0 L1370.0,1078.3 L1646.0,1079.2 L1646.0,1080.7 L1454.0,1081.7 L1421.0,1083.2 L1398.5,1086.2 L1386.5,1090.7 L1380.5,1097.5 L1377.2,1105.0 L1375.7,1117.0 L1374.8,1135.0 L1374.2,1156.0 L1373.7,1180.0 L1373.7,1198.0" fill="none" stroke="#0000ff" stroke-width="1.7" stroke-linejoin="round" stroke-linecap="butt"/>
<path d="M1369.3,135.0 L1370.7,136.1 L1372.2,137.2 L1373.6,138.4 L1375.3,139.5 L1373.9,140.6 L1373.0,141.7 L1371.0,142.9 L1370.8,144.0 L1370.2,145.2 L1372.4,146.4 L1373.9,147.6 L1374.7,148.8 L1375.8,150.0 L1374.5,151.3 L1373.2,152.6 L1371.9,153.9 L1370.0,155.2" fill="none" stroke="#008000" stroke-width="1.7" stroke-linejoin="round" stroke-linecap="butt"/>
<path d="M1368.5,225.0 L1373.0,229.5 L1374.5,234.0 L1370.0,238.5 L1368.5,241.5" fill="none" stroke="#008000" stroke-width="1.7" stroke-linejoin="round" stroke-linecap="butt"/>
<path d="M1368.5,330.5 L1375.2,335.7 L1371.5,342.5 L1374.5,348.5 L1369.2,356.7 L1368.5,359.7" fill="none" stroke="#008000" stroke-width="1.7" stroke-linejoin="round" stroke-linecap="butt"/>
<path d="M1368.3,787.7 L1369.5,790.0 L1368.2,794.5 L1370.4,796.7 L1371.5,799.0 L1373.8,801.2 L1375.2,803.5 L1378.1,805.2 L1380.4,806.9 L1382.6,808.6 L1384.9,810.2 L1387.6,812.1 L1389.9,814.0 L1392.1,815.9 L1394.9,817.7 L1395.1,820.0 L1397.0,822.2 L1399.9,823.5 L1401.7,824.7 L1403.3,826.0 L1406.3,827.2 L1408.3,828.5 L1410.3,829.7 L1413.3,832.7 L1415.9,833.8 L1418.5,834.8 L1420.5,835.8 L1423.5,836.9 L1425.1,837.9 L1427.9,838.9 L1429.5,839.9 L1427.0,838.7 L1425.1,837.5 L1422.8,836.2 L1420.8,835.0 L1417.7,833.7 L1415.5,832.5 L1412.6,831.2 L1410.5,830.0 L1412.9,831.9 L1414.9,833.7 L1417.8,834.7 L1420.4,835.7 L1422.7,836.7 L1425.0,837.7 L1427.5,838.7 L1430.2,839.7 L1431.2,843.5 L1434.2,844.2 L1436.2,844.8 L1438.9,845.5 L1440.9,846.1 L1443.4,846.8 L1445.9,847.4 L1448.7,848.1 L1451.0,848.7 L1453.7,849.3 L1456.6,849.9 L1458.6,850.4 L1461.8,851.0 L1464.0,851.6 L1466.5,852.1 L1469.2,852.7 L1472.3,853.2 L1474.9,854.1 L1476.6,855.0 L1478.9,855.9 L1481.1,856.8 L1484.0,857.7 L1486.4,859.5 L1488.6,861.2 L1486.3,863.2 L1484.4,865.2 L1482.1,868.2 L1480.4,871.2 L1477.6,872.4 L1474.7,873.5 L1474.5,876.5 L1475.3,879.5 L1476.3,881.7 L1474.9,884.0 L1473.3,886.2 L1471.7,890.7 L1472.3,893.4 L1472.1,896.0 L1474.9,898.2 L1477.4,900.5 L1478.5,902.7 L1479.4,905.0 L1478.0,908.0 L1469.0,912.5 L1467.8,912.9 L1466.3,913.5 L1464.5,914.1 L1462.4,914.8 L1460.3,915.6 L1458.1,916.4 L1456.0,917.1 L1454.0,917.7 L1452.1,918.3 L1450.2,918.9 L1448.2,919.5 L1446.3,920.0 L1444.4,920.6 L1442.5,921.1 L1440.7,921.7 L1439.0,922.2 L1437.3,922.8 L1435.6,923.4 L1433.9,923.9 L1432.3,924.5 L1430.7,925.0 L1429.3,925.6 L1428.1,926.2 L1427.0,926.7 L1426.1,927.4 L1425.4,928.0 L1424.9,928.7 L1424.4,929.3 L1424.1,930.0 L1423.9,930.7 L1423.8,931.3 L1423.7,932.0 L1423.7,932.6 L1423.8,933.3 L1424.0,933.9 L1424.3,934.5 L1424.6,935.2 L1425.1,935.8 L1425.6,936.5 L1426.2,937.2 L1427.0,938.0 L1427.8,938.8 L1428.7,939.6 L1429.7,940.5 L1430.8,941.3 L1431.9,942.2 L1433.2,943.1 L1434.5,944.0 L1436.0,944.9 L1437.6,945.9 L1439.3,946.9 L1441.1,947.9 L1442.9,948.9 L1444.7,949.8 L1446.4,950.7 L1448.0,951.5 L1449.5,952.2 L1451.0,952.8 L1452.4,953.4 L1453.8,953.9 L1455.2,954.4 L1456.4,954.9 L1457.5,955.5 L1458.5,956.0 L1459.4,956.6 L1460.2,957.1 L1460.8,957.7 L1461.4,958.2 L1461.9,958.8 L1462.3,959.4 L1462.5,959.9 L1462.7,960.5 L1462.7,961.1 L1462.7,961.6 L1462.5,962.2 L1462.2,962.7 L1461.8,963.3 L1461.3,963.8 L1460.7,964.4 L1460.0,965.0 L1459.2,965.6 L1458.3,966.2 L1457.2,966.9 L1456.1,967.5 L1454.9,968.2 L1453.6,968.9 L1452.3,969.6 L1451.0,970.2 L1449.6,971.0 L1448.2,971.7 L1446.7,972.5 L1445.1,973.2 L1443.5,974.0 L1442.0,974.8 L1440.4,975.5 L1439.0,976.2 L1437.6,976.9 L1436.1,977.6 L1434.7,978.2 L1433.3,978.9 L1431.9,979.5 L1430.7,980.2 L1429.5,980.8 L1428.5,981.5 L1427.6,982.2 L1426.8,982.9 L1426.2,983.6 L1425.6,984.4 L1425.1,985.1 L1424.7,985.9 L1424.3,986.7 L1424.0,987.5 L1423.8,988.4 L1423.6,989.2 L1423.5,990.1 L1423.5,991.1 L1423.6,992.0 L1423.7,993.0 L1423.8,994.0 L1424.0,995.0 L1424.3,996.1 L1424.6,997.2 L1425.0,998.4 L1425.5,999.6 L1426.0,1000.8 L1426.4,1001.9 L1426.7,1003.0 L1427.0,1004.0 L1427.2,1004.9 L1427.3,1005.7 L1427.4,1006.5 L1427.5,1007.2 L1427.5,1007.9 L1427.4,1008.6 L1427.2,1009.3 L1427.0,1010.0 L1426.7,1010.7 L1426.4,1011.5 L1426.0,1012.2 L1425.5,1012.9 L1424.9,1013.6 L1424.3,1014.4 L1423.5,1015.2 L1422.5,1016.0 L1421.4,1016.9 L1420.3,1017.7 L1419.0,1018.6 L1417.6,1019.5 L1416.1,1020.5 L1414.4,1021.4 L1412.6,1022.5 L1410.5,1023.5 L1408.1,1024.6 L1405.3,1025.8 L1402.3,1027.0 L1399.2,1028.2 L1396.0,1029.5 L1393.0,1030.7 L1390.3,1031.9 L1388.0,1033.0 L1386.1,1034.0 L1384.4,1035.0 L1383.0,1035.9 L1381.7,1036.8 L1380.5,1037.7 L1379.5,1038.6 L1378.5,1039.5 L1377.5,1040.5 L1376.6,1041.5 L1375.7,1042.6 L1375.0,1043.7 L1374.4,1044.8 L1373.8,1045.9 L1373.2,1047.1 L1372.7,1048.3 L1372.2,1049.5 L1371.8,1050.7 L1371.4,1051.8 L1371.1,1053.0 L1370.8,1054.2 L1370.5,1055.4 L1370.3,1056.8 L1370.2,1058.3 L1370.0,1060.0 L1369.9,1061.8 L1369.8,1063.8 L1369.8,1065.8 L1369.8,1068.0 L1369.8,1070.3 L1369.9,1072.7 L1369.9,1075.3 L1370.0,1078.0 L1370.1,1081.1 L1370.2,1084.7 L1370.3,1088.7 L1370.4,1092.6 L1370.5,1096.5 L1370.6,1099.9 L1370.7,1102.9 L1370.7,1105.0 L1368.5,1109.9 L1379.7,1110.7 L1372.2,1112.5 L1371.2,1120.0 L1371.2,1150.0 L1371.8,1198.0" fill="none" stroke="#008000" stroke-width="1.7" stroke-linejoin="round" stroke-linecap="butt"/>
<path d="M1368.5,124.5 L1370.7,124.5" fill="none" stroke="#ff0000" stroke-width="1.7" stroke-linejoin="round" stroke-linecap="butt"/>
<path d="M1368.5,132.4 L1385.7,132.4" fill="none" stroke="#ff0000" stroke-width="1.7" stroke-linejoin="round" stroke-linecap="butt"/>
<path d="M1365.5,225.7 L1397.7,228.3 L1399.2,230.2 L1382.0,231.7 L1418.0,234.0 L1435.2,236.7 L1406.0,238.5 L1382.7,240.0 L1406.0,240.7 L1430.0,243.0 L1439.0,246.0 L1467.5,247.9 L1445.0,248.7 L1400.7,249.3 L1425.5,251.2 L1401.5,252.0 L1365.5,255.0 L1383.5,255.7 L1425.5,257.2 L1445.0,260.2 L1449.5,261.7 L1431.5,264.7 L1365.5,267.7 L1365.5,281.2 L1391.0,283.5 L1415.0,285.0 L1463.0,288.0 L1388.0,290.2 L1365.5,294.0 L1376.0,297.7 L1380.5,300.0 L1415.0,303.7 L1399.2,306.7 L1370.0,311.2 L1365.5,314.2 L1365.5,361.7 L1379.0,363.5 L1365.5,365.0 L1365.5,367.2 L1370.7,368.0 L1365.5,368.7 L1365.5,382.7 L1370.3,383.3 L1365.5,383.9 L1365.5,480.2 L1421.6,480.4 L1477.7,480.6 L1533.8,480.8 L1589.9,481.0 L1646.0,481.2 L1646.0,485.0 L1589.9,485.1 L1533.8,485.3 L1477.7,485.4 L1421.6,485.6 L1365.5,485.7 L1365.5,486.5 L1424.0,486.6 L1482.5,486.8 L1541.0,486.9 L1482.5,487.3 L1424.0,487.6 L1365.5,488.0 L1421.6,488.1 L1477.7,488.3 L1533.8,488.4 L1589.9,488.6 L1646.0,488.7 L1646.0,489.5 L1589.9,489.6 L1533.8,489.8 L1477.7,489.9 L1421.6,490.1 L1365.5,490.2 L1365.5,517.7 L1421.3,518.6 L1477.1,519.4 L1532.9,520.2 L1588.7,521.0 L1495.2,524.0 L1509.5,526.0 L1577.7,526.4 L1646.0,526.7 L1646.0,533.0 L1589.9,533.0 L1533.8,533.0 L1477.7,533.0 L1421.6,533.0 L1365.5,533.0 L1365.5,585.5 L1365.5,638.0 L1403.7,639.5 L1406.7,641.5 L1427.0,643.0 L1436.0,644.5 L1502.0,647.5 L1452.5,650.2 L1427.0,652.3 L1439.7,654.2 L1409.0,655.7 L1421.0,657.7 L1421.7,659.2 L1437.5,660.7 L1434.5,664.0 L1416.5,667.0 L1433.7,670.3 L1410.5,671.5 L1393.2,673.7 L1400.7,675.2 L1379.0,677.5 L1368.5,680.8 L1374.5,685.0 L1386.5,688.0 L1382.0,690.2 L1381.2,694.0 L1371.5,697.0 L1375.2,699.2 L1369.2,700.7 L1371.5,705.2 L1383.5,707.0 L1376.7,708.7 L1398.5,712.0 L1383.5,714.2 L1365.5,717.5 L1365.5,730.0 L1374.5,730.7 L1383.2,734.5 L1372.2,738.2 L1370.7,740.8 L1379.0,743.8 L1376.0,746.2 L1394.0,748.7 L1413.5,754.3 L1436.0,757.7 L1465.7,761.8 L1439.0,766.3 L1438.2,768.7 L1447.2,769.3 L1439.7,771.2 L1460.0,772.7 L1452.5,774.7 L1466.7,776.2 L1442.7,777.7 L1448.0,779.5 L1428.5,782.2 L1436.0,785.2 L1432.2,788.5 L1435.2,790.7 L1415.7,795.2 L1427.7,800.8 L1422.2,803.5 L1433.0,805.0 L1431.5,808.7 L1435.2,810.2 L1427.7,813.2 L1436.0,815.2 L1427.7,819.2 L1434.5,823.7 L1432.7,826.7 L1439.0,829.7 L1440.5,832.2 L1439.0,835.2 L1452.5,836.7 L1463.0,839.0 L1469.0,841.7 L1463.7,844.2 L1461.5,848.0 L1473.5,850.2 L1482.5,854.7 L1476.5,859.2 L1475.0,863.0 L1466.0,866.0 L1454.0,869.7 L1449.5,873.5 L1451.7,879.5 L1449.5,885.5 L1445.7,888.5 L1448.0,892.2 L1451.0,895.2 L1450.7,899.0 L1453.2,903.5 L1451.0,907.2 L1439.0,912.5 L1437.9,912.9 L1436.5,913.4 L1434.8,914.1 L1433.0,914.8 L1431.0,915.6 L1429.0,916.3 L1427.2,917.1 L1425.5,917.7 L1423.9,918.4 L1422.4,919.0 L1420.9,919.7 L1419.4,920.3 L1417.9,921.0 L1416.6,921.6 L1415.4,922.3 L1414.2,923.0 L1413.3,923.7 L1412.3,924.5 L1411.5,925.2 L1410.8,926.0 L1410.2,926.8 L1409.6,927.5 L1409.3,928.3 L1409.0,929.0 L1408.9,929.7 L1409.0,930.3 L1409.2,931.0 L1409.5,931.6 L1409.9,932.2 L1410.3,932.8 L1410.8,933.5 L1411.2,934.2 L1411.7,935.0 L1412.2,935.8 L1412.8,936.6 L1413.4,937.5 L1414.0,938.3 L1414.7,939.2 L1415.6,940.1 L1416.5,941.0 L1417.6,941.9 L1418.8,942.9 L1420.1,943.8 L1421.5,944.8 L1422.9,945.8 L1424.4,946.7 L1425.7,947.6 L1427.0,948.5 L1428.2,949.3 L1429.5,950.1 L1430.7,950.9 L1432.0,951.6 L1433.1,952.4 L1434.2,953.1 L1435.2,953.8 L1436.0,954.5 L1436.7,955.2 L1437.3,955.9 L1437.9,956.5 L1438.3,957.2 L1438.6,957.8 L1438.9,958.5 L1439.0,959.1 L1439.0,959.7 L1438.9,960.4 L1438.6,961.0 L1438.3,961.7 L1437.8,962.3 L1437.3,963.0 L1436.7,963.6 L1436.0,964.3 L1435.2,965.0 L1434.4,965.7 L1433.5,966.4 L1432.5,967.2 L1431.4,967.9 L1430.2,968.7 L1429.1,969.4 L1428.0,970.2 L1427.0,971.0 L1426.0,971.8 L1425.0,972.7 L1424.0,973.5 L1423.0,974.4 L1422.1,975.2 L1421.1,976.1 L1420.3,976.9 L1419.5,977.7 L1418.8,978.5 L1418.1,979.3 L1417.4,980.0 L1416.8,980.7 L1416.3,981.5 L1415.8,982.2 L1415.4,983.0 L1415.0,983.7 L1414.7,984.6 L1414.5,985.4 L1414.4,986.2 L1414.3,987.0 L1414.2,987.9 L1414.2,988.7 L1414.2,989.6 L1414.2,990.5 L1414.3,991.4 L1414.4,992.3 L1414.6,993.3 L1414.7,994.2 L1414.9,995.2 L1415.1,996.1 L1415.2,997.1 L1415.3,998.0 L1415.3,998.9 L1415.4,999.9 L1415.4,1000.9 L1415.4,1001.8 L1415.4,1002.8 L1415.3,1003.7 L1415.2,1004.6 L1415.0,1005.5 L1414.8,1006.3 L1414.5,1007.1 L1414.3,1007.8 L1413.9,1008.5 L1413.6,1009.3 L1413.1,1010.0 L1412.6,1010.7 L1412.0,1011.5 L1411.3,1012.3 L1410.5,1013.1 L1409.7,1013.9 L1408.8,1014.8 L1407.8,1015.6 L1406.8,1016.5 L1405.7,1017.4 L1404.5,1018.2 L1403.2,1019.2 L1401.8,1020.1 L1400.3,1021.1 L1398.8,1022.0 L1397.2,1023.0 L1395.6,1023.9 L1394.0,1024.9 L1392.5,1025.7 L1391.0,1026.6 L1389.4,1027.4 L1387.7,1028.2 L1386.1,1029.0 L1384.6,1029.8 L1383.1,1030.6 L1381.7,1031.4 L1380.5,1032.2 L1379.4,1033.1 L1378.5,1034.0 L1377.7,1034.9 L1377.0,1035.8 L1376.3,1036.7 L1375.7,1037.7 L1375.1,1038.7 L1374.5,1039.7 L1373.9,1040.9 L1373.4,1042.0 L1373.0,1043.2 L1372.5,1044.4 L1372.2,1045.7 L1371.8,1047.0 L1371.5,1048.2 L1371.2,1049.5 L1370.9,1050.7 L1370.7,1051.9 L1370.5,1053.1 L1370.4,1054.2 L1370.3,1055.5 L1370.2,1056.8 L1370.1,1058.3 L1370.0,1060.0 L1369.9,1061.8 L1369.9,1063.8 L1369.9,1065.8 L1369.9,1068.0 L1369.9,1070.3 L1369.9,1072.7 L1370.0,1075.3 L1370.0,1078.0 L1370.1,1080.9 L1370.1,1084.0 L1370.2,1087.3 L1370.3,1090.7 L1370.4,1094.3 L1370.5,1097.8 L1370.7,1101.4 L1370.7,1105.0 L1370.8,1108.7 L1370.9,1112.5 L1371.0,1116.4 L1371.1,1120.4 L1371.2,1124.3 L1371.3,1128.1 L1371.4,1131.7 L1371.5,1135.0 L1371.7,1138.2 L1371.9,1141.4 L1372.1,1144.5 L1372.3,1147.4 L1372.5,1150.1 L1372.7,1152.4 L1372.9,1154.4 L1373.0,1156.0 L1375.2,1162.0 L1406.0,1165.0 L1365.5,1166.0 L1365.5,1167.7 L1370.7,1171.0 L1371.8,1180.0 L1372.2,1198.0" fill="none" stroke="#ff0000" stroke-width="1.7" stroke-linejoin="round" stroke-linecap="butt"/>
</g>
<rect x="1368.5" y="123.5" width="255.0" height="1075.0" fill="none" stroke="#000" stroke-width="1.12"/>
<line x1="1368.00" y1="1198.5" x2="1368.00" y2="1204.0" stroke="#000" stroke-width="2.0"/>
<line x1="1368.00" y1="123.5" x2="1368.00" y2="117.0" stroke="#000" stroke-width="2.0"/>
<text x="1355.31" y="1220.20" font-size="17.6" font-family='"Liberation Serif", serif' fill="#000" textLength="24.70" lengthAdjust="spacingAndGlyphs" stroke="#000" stroke-width="0.16" >0.0</text>
<line x1="1453.00" y1="1198.5" x2="1453.00" y2="1204.0" stroke="#000" stroke-width="2.0"/>
<line x1="1453.00" y1="123.5" x2="1453.00" y2="117.0" stroke="#000" stroke-width="2.0"/>
<text x="1440.41" y="1220.20" font-size="17.6" font-family='"Liberation Serif", serif' fill="#000" textLength="24.70" lengthAdjust="spacingAndGlyphs" stroke="#000" stroke-width="0.16" >0.1</text>
<line x1="1538.00" y1="1198.5" x2="1538.00" y2="1204.0" stroke="#000" stroke-width="2.0"/>
<line x1="1538.00" y1="123.5" x2="1538.00" y2="117.0" stroke="#000" stroke-width="2.0"/>
<text x="1525.51" y="1220.20" font-size="17.6" font-family='"Liberation Serif", serif' fill="#000" textLength="24.70" lengthAdjust="spacingAndGlyphs" stroke="#000" stroke-width="0.16" >0.2</text>
<line x1="1623.00" y1="1198.5" x2="1623.00" y2="1204.0" stroke="#000" stroke-width="2.0"/>
<line x1="1623.00" y1="123.5" x2="1623.00" y2="117.0" stroke="#000" stroke-width="2.0"/>
<text x="1610.61" y="1220.20" font-size="17.6" font-family='"Liberation Serif", serif' fill="#000" textLength="24.70" lengthAdjust="spacingAndGlyphs" stroke="#000" stroke-width="0.16" >0.3</text>
<line x1="1368.5" y1="1198.00" x2="1362.0" y2="1198.00" stroke="#000" stroke-width="2.0"/>
<line x1="1623.5" y1="1198.00" x2="1629.0" y2="1198.00" stroke="#000" stroke-width="2.0"/>
<text x="1348.70" y="1204.70" font-size="17.6" font-family='"Liberation Serif", serif' fill="#000" textLength="9.90" lengthAdjust="spacingAndGlyphs" stroke="#000" stroke-width="0.16" >0</text>
<line x1="1368.5" y1="983.00" x2="1362.0" y2="983.00" stroke="#000" stroke-width="2.0"/>
<line x1="1623.5" y1="983.00" x2="1629.0" y2="983.00" stroke="#000" stroke-width="2.0"/>
<text x="1348.70" y="989.70" font-size="17.6" font-family='"Liberation Serif", serif' fill="#000" textLength="9.90" lengthAdjust="spacingAndGlyphs" stroke="#000" stroke-width="0.16" >1</text>
<line x1="1368.5" y1="768.00" x2="1362.0" y2="768.00" stroke="#000" stroke-width="2.0"/>
<line x1="1623.5" y1="768.00" x2="1629.0" y2="768.00" stroke="#000" stroke-width="2.0"/>
<text x="1348.70" y="774.70" font-size="17.6" font-family='"Liberation Serif", serif' fill="#000" textLength="9.90" lengthAdjust="spacingAndGlyphs" stroke="#000" stroke-width="0.16" >2</text>
<line x1="1368.5" y1="553.00" x2="1362.0" y2="553.00" stroke="#000" stroke-width="2.0"/>
<line x1="1623.5" y1="553.00" x2="1629.0" y2="553.00" stroke="#000" stroke-width="2.0"/>
<text x="1348.70" y="559.70" font-size="17.6" font-family='"Liberation Serif", serif' fill="#000" textLength="9.90" lengthAdjust="spacingAndGlyphs" stroke="#000" stroke-width="0.16" >3</text>
<line x1="1368.5" y1="338.00" x2="1362.0" y2="338.00" stroke="#000" stroke-width="2.0"/>
<line x1="1623.5" y1="338.00" x2="1629.0" y2="338.00" stroke="#000" stroke-width="2.0"/>
<text x="1348.70" y="344.70" font-size="17.6" font-family='"Liberation Serif", serif' fill="#000" textLength="9.90" lengthAdjust="spacingAndGlyphs" stroke="#000" stroke-width="0.16" >4</text>
<line x1="1368.5" y1="123.00" x2="1362.0" y2="123.00" stroke="#000" stroke-width="2.0"/>
<line x1="1623.5" y1="123.00" x2="1629.0" y2="123.00" stroke="#000" stroke-width="2.0"/>
<text x="1348.70" y="129.70" font-size="17.6" font-family='"Liberation Serif", serif' fill="#000" textLength="9.90" lengthAdjust="spacingAndGlyphs" stroke="#000" stroke-width="0.16" >5</text>
<line x1="1677.50" y1="123.5" x2="1677.50" y2="1198.5" stroke="#b6b6b6" stroke-width="1"/>
<line x1="1728.50" y1="123.5" x2="1728.50" y2="1198.5" stroke="#b6b6b6" stroke-width="1"/>
<line x1="1779.50" y1="123.5" x2="1779.50" y2="1198.5" stroke="#b6b6b6" stroke-width="1"/>
<line x1="1830.50" y1="123.5" x2="1830.50" y2="1198.5" stroke="#b6b6b6" stroke-width="1"/>
<line x1="1881.50" y1="123.5" x2="1881.50" y2="1198.5" stroke="#b6b6b6" stroke-width="1"/>
<line x1="1932.50" y1="123.5" x2="1932.50" y2="1198.5" stroke="#b6b6b6" stroke-width="1"/>
<line x1="1677.5" y1="1198.50" x2="1932.5" y2="1198.50" stroke="#b6b6b6" stroke-width="1"/>
<line x1="1677.5" y1="983.50" x2="1932.5" y2="983.50" stroke="#b6b6b6" stroke-width="1"/>
<line x1="1677.5" y1="768.50" x2="1932.5" y2="768.50" stroke="#b6b6b6" stroke-width="1"/>
<line x1="1677.5" y1="553.50" x2="1932.5" y2="553.50" stroke="#b6b6b6" stroke-width="1"/>
<line x1="1677.5" y1="338.50" x2="1932.5" y2="338.50" stroke="#b6b6b6" stroke-width="1"/>
<line x1="1677.5" y1="123.50" x2="1932.5" y2="123.50" stroke="#b6b6b6" stroke-width="1"/>
<g clip-path="url(#clip5)">
</g>
<rect x="1677.5" y="123.5" width="255.0" height="1075.0" fill="none" stroke="#000" stroke-width="1.12"/>
<line x1="1677.00" y1="1198.5" x2="1677.00" y2="1204.0" stroke="#000" stroke-width="2.0"/>
<line x1="1677.00" y1="123.5" x2="1677.00" y2="117.0" stroke="#000" stroke-width="2.0"/>
<text x="1671.90" y="1220.20" font-size="17.6" font-family='"Liberation Serif", serif' fill="#000" textLength="9.40" lengthAdjust="spacingAndGlyphs" stroke="#000" stroke-width="0.16" >0</text>
<line x1="1728.00" y1="1198.5" x2="1728.00" y2="1204.0" stroke="#000" stroke-width="2.0"/>
<line x1="1728.00" y1="123.5" x2="1728.00" y2="117.0" stroke="#000" stroke-width="2.0"/>
<text x="1717.61" y="1220.20" font-size="17.6" font-family='"Liberation Serif", serif' fill="#000" textLength="20.10" lengthAdjust="spacingAndGlyphs" stroke="#000" stroke-width="0.16" >10</text>
<line x1="1779.00" y1="1198.5" x2="1779.00" y2="1204.0" stroke="#000" stroke-width="2.0"/>
<line x1="1779.00" y1="123.5" x2="1779.00" y2="117.0" stroke="#000" stroke-width="2.0"/>
<text x="1768.67" y="1220.20" font-size="17.6" font-family='"Liberation Serif", serif' fill="#000" textLength="20.10" lengthAdjust="spacingAndGlyphs" stroke="#000" stroke-width="0.16" >20</text>
<line x1="1830.00" y1="1198.5" x2="1830.00" y2="1204.0" stroke="#000" stroke-width="2.0"/>
<line x1="1830.00" y1="123.5" x2="1830.00" y2="117.0" stroke="#000" stroke-width="2.0"/>
<text x="1819.73" y="1220.20" font-size="17.6" font-family='"Liberation Serif", serif' fill="#000" textLength="20.10" lengthAdjust="spacingAndGlyphs" stroke="#000" stroke-width="0.16" >30</text>
<line x1="1881.00" y1="1198.5" x2="1881.00" y2="1204.0" stroke="#000" stroke-width="2.0"/>
<line x1="1881.00" y1="123.5" x2="1881.00" y2="117.0" stroke="#000" stroke-width="2.0"/>
<text x="1870.79" y="1220.20" font-size="17.6" font-family='"Liberation Serif", serif' fill="#000" textLength="20.10" lengthAdjust="spacingAndGlyphs" stroke="#000" stroke-width="0.16" >40</text>
<line x1="1932.00" y1="1198.5" x2="1932.00" y2="1204.0" stroke="#000" stroke-width="2.0"/>
<line x1="1932.00" y1="123.5" x2="1932.00" y2="117.0" stroke="#000" stroke-width="2.0"/>
<text x="1921.85" y="1220.20" font-size="17.6" font-family='"Liberation Serif", serif' fill="#000" textLength="20.10" lengthAdjust="spacingAndGlyphs" stroke="#000" stroke-width="0.16" >50</text>
<line x1="1677.5" y1="1198.00" x2="1671.0" y2="1198.00" stroke="#000" stroke-width="2.0"/>
<line x1="1932.5" y1="1198.00" x2="1938.0" y2="1198.00" stroke="#000" stroke-width="2.0"/>
<text x="1657.70" y="1204.70" font-size="17.6" font-family='"Liberation Serif", serif' fill="#000" textLength="9.90" lengthAdjust="spacingAndGlyphs" stroke="#000" stroke-width="0.16" >0</text>
<line x1="1677.5" y1="983.00" x2="1671.0" y2="983.00" stroke="#000" stroke-width="2.0"/>
<line x1="1932.5" y1="983.00" x2="1938.0" y2="983.00" stroke="#000" stroke-width="2.0"/>
<text x="1657.70" y="989.70" font-size="17.6" font-family='"Liberation Serif", serif' fill="#000" textLength="9.90" lengthAdjust="spacingAndGlyphs" stroke="#000" stroke-width="0.16" >1</text>
<line x1="1677.5" y1="768.00" x2="1671.0" y2="768.00" stroke="#000" stroke-width="2.0"/>
<line x1="1932.5" y1="768.00" x2="1938.0" y2="768.00" stroke="#000" stroke-width="2.0"/>
<text x="1657.70" y="774.70" font-size="17.6" font-family='"Liberation Serif", serif' fill="#000" textLength="9.90" lengthAdjust="spacingAndGlyphs" stroke="#000" stroke-width="0.16" >2</text>
<line x1="1677.5" y1="553.00" x2="1671.0" y2="553.00" stroke="#000" stroke-width="2.0"/>
<line x1="1932.5" y1="553.00" x2="1938.0" y2="553.00" stroke="#000" stroke-width="2.0"/>
<text x="1657.70" y="559.70" font-size="17.6" font-family='"Liberation Serif", serif' fill="#000" textLength="9.90" lengthAdjust="spacingAndGlyphs" stroke="#000" stroke-width="0.16" >3</text>
<line x1="1677.5" y1="338.00" x2="1671.0" y2="338.00" stroke="#000" stroke-width="2.0"/>
<line x1="1932.5" y1="338.00" x2="1938.0" y2="338.00" stroke="#000" stroke-width="2.0"/>
<text x="1657.70" y="344.70" font-size="17.6" font-family='"Liberation Serif", serif' fill="#000" textLength="9.90" lengthAdjust="spacingAndGlyphs" stroke="#000" stroke-width="0.16" >4</text>
<line x1="1677.5" y1="123.00" x2="1671.0" y2="123.00" stroke="#000" stroke-width="2.0"/>
<line x1="1932.5" y1="123.00" x2="1938.0" y2="123.00" stroke="#000" stroke-width="2.0"/>
<text x="1657.70" y="129.70" font-size="17.6" font-family='"Liberation Serif", serif' fill="#000" textLength="9.90" lengthAdjust="spacingAndGlyphs" stroke="#000" stroke-width="0.16" >5</text>
<text x="1671.90" y="109.90" font-size="17.6" font-family='"Liberation Serif", serif' fill="#000" textLength="9.40" lengthAdjust="spacingAndGlyphs" stroke="#000" stroke-width="0.16" >0</text>
<text x="1717.61" y="109.90" font-size="17.6" font-family='"Liberation Serif", serif' fill="#000" textLength="20.10" lengthAdjust="spacingAndGlyphs" stroke="#000" stroke-width="0.16" >20</text>
<text x="1768.67" y="109.90" font-size="17.6" font-family='"Liberation Serif", serif' fill="#000" textLength="20.10" lengthAdjust="spacingAndGlyphs" stroke="#000" stroke-width="0.16" >40</text>
<text x="1819.73" y="109.90" font-size="17.6" font-family='"Liberation Serif", serif' fill="#000" textLength="20.10" lengthAdjust="spacingAndGlyphs" stroke="#000" stroke-width="0.16" >60</text>
<text x="1870.79" y="109.90" font-size="17.6" font-family='"Liberation Serif", serif' fill="#000" textLength="20.10" lengthAdjust="spacingAndGlyphs" stroke="#000" stroke-width="0.16" >80</text>
<text x="1916.50" y="109.90" font-size="17.6" font-family='"Liberation Serif", serif' fill="#000" textLength="30.80" lengthAdjust="spacingAndGlyphs" stroke="#000" stroke-width="0.16" >100</text>
<text x="506.00" y="44.00" font-size="24.6" font-family='"Liberation Serif", serif' fill="#000" textLength="106.60" lengthAdjust="spacingAndGlyphs" stroke="#000" stroke-width="0.22" >Summary</text>
<text x="621.40" y="44.00" font-size="24.6" font-family='"Liberation Serif", serif' fill="#000" textLength="20.80" lengthAdjust="spacingAndGlyphs" stroke="#000" stroke-width="0.22" >of</text>
<text x="650.00" y="44.00" font-size="24.6" font-family='"Liberation Serif", serif' fill="#000" textLength="53.60" lengthAdjust="spacingAndGlyphs" stroke="#000" stroke-width="0.22" >Klett</text>
<text x="712.40" y="44.00" font-size="24.6" font-family='"Liberation Serif", serif' fill="#000" textLength="70.80" lengthAdjust="spacingAndGlyphs" stroke="#000" stroke-width="0.22" >profile</text>
<text x="792.00" y="44.00" font-size="24.6" font-family='"Liberation Serif", serif' fill="#000" textLength="53.60" lengthAdjust="spacingAndGlyphs" stroke="#000" stroke-width="0.22" >plots</text>
<text x="854.40" y="44.00" font-size="24.6" font-family='"Liberation Serif", serif' fill="#000" textLength="31.20" lengthAdjust="spacingAndGlyphs" stroke="#000" stroke-width="0.22" >for</text>
<text x="894.50" y="44.00" font-size="24.6" font-family='"Liberation Serif", serif' fill="#000" textLength="167.90" lengthAdjust="spacingAndGlyphs" stroke="#000" stroke-width="0.22" >pollyxt_lacros2</text>
<text x="1071.30" y="44.00" font-size="24.6" font-family='"Liberation Serif", serif' fill="#000" textLength="20.80" lengthAdjust="spacingAndGlyphs" stroke="#000" stroke-width="0.22" >at</text>
<text x="1100.40" y="44.00" font-size="24.6" font-family='"Liberation Serif", serif' fill="#000" textLength="131.00" lengthAdjust="spacingAndGlyphs" stroke="#000" stroke-width="0.22" >Invercargill</text>
<text x="1239.20" y="44.00" font-size="24.6" font-family='"Liberation Serif", serif' fill="#000" textLength="110.30" lengthAdjust="spacingAndGlyphs" stroke="#000" stroke-width="0.22" >20251221</text>
<text x="1359.90" y="44.00" font-size="24.6" font-family='"Liberation Serif", serif' fill="#000" textLength="134.10" lengthAdjust="spacingAndGlyphs" stroke="#000" stroke-width="0.22" >07:11-08:34</text>
<rect x="149.6" y="131.9" width="229.9" height="128.20000000000002" rx="3.2" ry="3.2" fill="#fff" fill-opacity="0.8" stroke="#ccc" stroke-opacity="0.8" stroke-width="1.15"/>
<line x1="154.3" y1="145.0" x2="186.7" y2="145.0" stroke="#0000ff" stroke-width="2.1"/>
<text x="199.50" y="150.80" font-size="16.3" font-family='"Liberation Serif", serif' fill="#000" textLength="163.00" lengthAdjust="spacingAndGlyphs" stroke="#000" stroke-width="0.15" >aerBsc_klett_355_FR</text>
<line x1="154.3" y1="170.0" x2="186.7" y2="170.0" stroke="#008000" stroke-width="2.1"/>
<text x="199.50" y="175.80" font-size="16.3" font-family='"Liberation Serif", serif' fill="#000" textLength="163.00" lengthAdjust="spacingAndGlyphs" stroke="#000" stroke-width="0.15" >aerBsc_klett_532_FR</text>
<line x1="154.3" y1="195.0" x2="186.7" y2="195.0" stroke="#ff0000" stroke-width="2.1"/>
<text x="199.50" y="200.80" font-size="16.3" font-family='"Liberation Serif", serif' fill="#000" textLength="172.50" lengthAdjust="spacingAndGlyphs" stroke="#000" stroke-width="0.15" >aerBsc_klett_1064_FR</text>
<line x1="154.3" y1="219.6" x2="186.7" y2="219.6" stroke="#66ffff" stroke-width="2.1"/>
<text x="199.50" y="225.40" font-size="16.3" font-family='"Liberation Serif", serif' fill="#000" textLength="165.70" lengthAdjust="spacingAndGlyphs" stroke="#000" stroke-width="0.15" >aerBsc_klett_355_NR</text>
<line x1="154.3" y1="244.6" x2="186.7" y2="244.6" stroke="#66ff66" stroke-width="2.1"/>
<text x="199.50" y="250.40" font-size="16.3" font-family='"Liberation Serif", serif' fill="#000" textLength="165.70" lengthAdjust="spacingAndGlyphs" stroke="#000" stroke-width="0.15" >aerBsc_klett_532_NR</text>
<rect x="448.5" y="131.9" width="240.0" height="77.9" rx="3.2" ry="3.2" fill="#fff" fill-opacity="0.8" stroke="#ccc" stroke-opacity="0.8" stroke-width="1.15"/>
<line x1="453.2" y1="145.0" x2="485.9" y2="145.0" stroke="#0000ff" stroke-width="2.1"/>
<text x="497.40" y="150.80" font-size="16.3" font-family='"Liberation Serif", serif' fill="#000" textLength="174.10" lengthAdjust="spacingAndGlyphs" stroke="#000" stroke-width="0.15" >aerBsc_klett_355 x LR</text>
<line x1="453.2" y1="170.0" x2="485.9" y2="170.0" stroke="#008000" stroke-width="2.1"/>
<text x="497.40" y="175.80" font-size="16.3" font-family='"Liberation Serif", serif' fill="#000" textLength="174.10" lengthAdjust="spacingAndGlyphs" stroke="#000" stroke-width="0.15" >aerBsc_klett_532 x LR</text>
<line x1="453.2" y1="195.0" x2="485.9" y2="195.0" stroke="#ff0000" stroke-width="2.1"/>
<text x="497.40" y="200.80" font-size="16.3" font-family='"Liberation Serif", serif' fill="#000" textLength="184.00" lengthAdjust="spacingAndGlyphs" stroke="#000" stroke-width="0.15" >aerBsc_klett_1064 x LR</text>
<rect x="985.3" y="131.3" width="12.5" height="13.3" rx="3.2" ry="3.2" fill="#fff" fill-opacity="0.8" stroke="#ccc" stroke-opacity="0.8" stroke-width="1.15"/>
<rect x="1294.3" y="131.3" width="12.5" height="13.3" rx="3.2" ry="3.2" fill="#fff" fill-opacity="0.8" stroke="#ccc" stroke-opacity="0.8" stroke-width="1.15"/>
<rect x="1367.2" y="131.6" width="247.79999999999995" height="78.6" rx="3.2" ry="3.2" fill="#fff" fill-opacity="0.8" stroke="#ccc" stroke-opacity="0.8" stroke-width="1.15"/>
<line x1="1372.0" y1="144.8" x2="1405.0" y2="144.8" stroke="#0000ff" stroke-width="2.1"/>
<text x="1417.30" y="150.60" font-size="16.3" font-family='"Liberation Serif", serif' fill="#000" textLength="181.30" lengthAdjust="spacingAndGlyphs" stroke="#000" stroke-width="0.15" >parDepol_klett_355_FR</text>
<line x1="1372.0" y1="169.8" x2="1405.0" y2="169.8" stroke="#008000" stroke-width="2.1"/>
<text x="1417.30" y="175.60" font-size="16.3" font-family='"Liberation Serif", serif' fill="#000" textLength="181.30" lengthAdjust="spacingAndGlyphs" stroke="#000" stroke-width="0.15" >parDepol_klett_532_FR</text>
<line x1="1372.0" y1="194.8" x2="1405.0" y2="194.8" stroke="#ff0000" stroke-width="2.1"/>
<text x="1417.30" y="200.60" font-size="16.3" font-family='"Liberation Serif", serif' fill="#000" textLength="190.70" lengthAdjust="spacingAndGlyphs" stroke="#000" stroke-width="0.15" >parDepol_klett_1064_FR</text>
<rect x="1814.3" y="131.6" width="110.29999999999995" height="29.900000000000006" rx="3.2" ry="3.2" fill="#fff" fill-opacity="0.8" stroke="#ccc" stroke-opacity="0.8" stroke-width="1.15"/>
<line x1="1818.9" y1="144.8" x2="1852.0" y2="144.8" stroke="#0000ff" stroke-width="2.1"/>
<text x="1864.40" y="149.90" font-size="16.3" font-family='"Liberation Serif", serif' fill="#000" textLength="53.30" lengthAdjust="spacingAndGlyphs" stroke="#000" stroke-width="0.15" >WVMR</text>
<rect x="1818.5" y="185.5" width="81.0" height="29.0" rx="3.2" ry="3.2" fill="#fff" fill-opacity="0.8" stroke="#ccc" stroke-opacity="0.8" stroke-width="1.15"/>
<line x1="1823.1" y1="199.0" x2="1855.8" y2="199.0" stroke="#008000" stroke-width="2.1"/>
<text x="1868.50" y="203.90" font-size="16.3" font-family='"Liberation Serif", serif' fill="#000" textLength="22.80" lengthAdjust="spacingAndGlyphs" stroke="#000" stroke-width="0.15" >RH</text>
<rect x="589.2" y="231" width="93.5" height="62.8" fill="#eff0f7" fill-opacity="0.8"/>
<text x="595.0" y="246.9" font-size="14.6" font-family='"Liberation Serif", serif' textLength="76.30" lengthAdjust="spacingAndGlyphs" stroke="#000" stroke-width="0.12"><tspan font-family='"Liberation Serif", serif'>LR</tspan><tspan font-size="10.22" font-family='"Liberation Serif", serif' dy="3.21">355</tspan><tspan dy="-3.21">: 50.00</tspan></text>
<text x="595.0" y="265.2" font-size="14.6" font-family='"Liberation Serif", serif' textLength="76.30" lengthAdjust="spacingAndGlyphs" stroke="#000" stroke-width="0.12"><tspan font-family='"Liberation Serif", serif'>LR</tspan><tspan font-size="10.22" font-family='"Liberation Serif", serif' dy="3.21">532</tspan><tspan dy="-3.21">: 50.00</tspan></text>
<text x="595.0" y="283.6" font-size="14.6" font-family='"Liberation Serif", serif' textLength="81.00" lengthAdjust="spacingAndGlyphs" stroke="#000" stroke-width="0.12"><tspan font-family='"Liberation Serif", serif'>LR</tspan><tspan font-size="10.22" font-family='"Liberation Serif", serif' dy="3.21">1064</tspan><tspan dy="-3.21">: 50.00</tspan></text>
<rect x="1415.2" y="273.2" width="105.8" height="75.3" fill="#eff0f7" fill-opacity="0.8"/>
<text x="1420.9" y="291.3" font-size="17.6" font-family='"Liberation Serif", serif' textLength="93.50" lengthAdjust="spacingAndGlyphs" stroke="#000" stroke-width="0.14"><tspan font-family='"Liberation Sans", sans-serif' font-style="italic">η</tspan><tspan font-size="12.20" font-family='"Liberation Sans", sans-serif' dy="3.40">355</tspan><tspan dy="-3.40">: 113.00</tspan></text>
<text x="1420.9" y="314.2" font-size="17.6" font-family='"Liberation Serif", serif' textLength="83.40" lengthAdjust="spacingAndGlyphs" stroke="#000" stroke-width="0.14"><tspan font-family='"Liberation Sans", sans-serif' font-style="italic">η</tspan><tspan font-size="12.20" font-family='"Liberation Sans", sans-serif' dy="3.40">532</tspan><tspan dy="-3.40">: 10.25</tspan></text>
<text x="1420.9" y="337.4" font-size="17.6" font-family='"Liberation Serif", serif' textLength="80.30" lengthAdjust="spacingAndGlyphs" stroke="#000" stroke-width="0.14"><tspan font-family='"Liberation Sans", sans-serif' font-style="italic">η</tspan><tspan font-size="12.20" font-family='"Liberation Sans", sans-serif' dy="3.40">1064</tspan><tspan dy="-3.40">: 0.45</tspan></text>
<rect x="195" y="1276" width="211" height="65.8" fill="#eff0f7" fill-opacity="0.8"/>
<text x="200.00" y="1295.20" font-size="17.5" font-family='"Liberation Serif", serif' fill="#000" textLength="190.00" lengthAdjust="spacingAndGlyphs" stroke="#000" stroke-width="0.16" >ref.H_355: 3.79-5.29 km</text>
<text x="200.00" y="1314.40" font-size="17.5" font-family='"Liberation Serif", serif' fill="#000" textLength="190.00" lengthAdjust="spacingAndGlyphs" stroke="#000" stroke-width="0.16" >ref.H_532: 6.26-7.75 km</text>
<text x="200.00" y="1333.80" font-size="17.5" font-family='"Liberation Serif", serif' fill="#000" textLength="199.80" lengthAdjust="spacingAndGlyphs" stroke="#000" stroke-width="0.16" >ref.H_1064: 2.01-3.51 km</text>
<rect x="1695" y="1274.3" width="165" height="27.5" fill="#eff0f7" fill-opacity="0.8"/>
<text x="1700.50" y="1292.00" font-size="17.5" font-family='"Liberation Serif", serif' fill="#000" textLength="153.80" lengthAdjust="spacingAndGlyphs" stroke="#000" stroke-width="0.16" >WV-calib.const.: 6.4</text>
<text transform="translate(102.9,722.4) rotate(-90)" font-size="23.0" font-family='"Liberation Serif", serif' textLength="120.6" lengthAdjust="spacingAndGlyphs" stroke="#000" stroke-width="0.21">Height [km]</text>
<text x="125.90" y="1248.00" font-size="23.0" font-family='"Liberation Serif", serif' fill="#000" textLength="193.80" lengthAdjust="spacingAndGlyphs" stroke="#000" stroke-width="0.21" >Backsc. coeff. [Msr</text>
<rect x="321.1" y="1236.10" width="9.30" height="1.35" fill="#000"/>
<text x="330.80" y="1241.10" font-size="14.8" font-family='"Liberation Serif", serif' fill="#000" textLength="9.09" lengthAdjust="spacingAndGlyphs" stroke="#000" stroke-width="0.13" >1</text>
<text x="347.30" y="1248.00" font-size="23.0" font-family='"Liberation Serif", serif' fill="#000" textLength="18.50" lengthAdjust="spacingAndGlyphs" stroke="#000" stroke-width="0.21" >m</text>
<rect x="367.3" y="1236.10" width="8.80" height="1.35" fill="#000"/>
<text x="377.75" y="1241.10" font-size="14.8" font-family='"Liberation Serif", serif' fill="#000" textLength="9.38" lengthAdjust="spacingAndGlyphs" stroke="#000" stroke-width="0.13" >1</text>
<text x="388.20" y="1248.00" font-size="23.0" font-family='"Liberation Serif", serif' fill="#000" textLength="5.60" lengthAdjust="spacingAndGlyphs" stroke="#000" stroke-width="0.21" >]</text>
<text x="458.10" y="1248.00" font-size="23.0" font-family='"Liberation Serif", serif' fill="#000" textLength="193.40" lengthAdjust="spacingAndGlyphs" stroke="#000" stroke-width="0.21" >Extinct. coeff. [Mm</text>
<rect x="654.0" y="1236.10" width="8.30" height="1.35" fill="#000"/>
<text x="662.92" y="1241.10" font-size="14.8" font-family='"Liberation Serif", serif' fill="#000" textLength="8.38" lengthAdjust="spacingAndGlyphs" stroke="#000" stroke-width="0.13" >1</text>
<text x="674.20" y="1248.00" font-size="23.0" font-family='"Liberation Serif", serif' fill="#000" textLength="5.60" lengthAdjust="spacingAndGlyphs" stroke="#000" stroke-width="0.21" >]</text>
<text x="800.50" y="1243.90" font-size="23.0" font-family='"Liberation Serif", serif' fill="#000" textLength="153.90" lengthAdjust="spacingAndGlyphs" stroke="#000" stroke-width="0.21" >Lidar ratio [Sr]</text>
<text x="1112.60" y="1249.60" font-size="21.39" font-family='"Liberation Sans", sans-serif' fill="#000" textLength="13.40" lengthAdjust="spacingAndGlyphs" font-style="italic" >Å</text>
<text x="1125.80" y="1249.60" font-size="23.0" font-family='"Liberation Serif", serif' fill="#000" textLength="136.60" lengthAdjust="spacingAndGlyphs" stroke="#000" stroke-width="0.21" >ngström Exp.</text>
<text x="1436.50" y="1243.90" font-size="23.0" font-family='"Liberation Serif", serif' fill="#000" textLength="119.20" lengthAdjust="spacingAndGlyphs" stroke="#000" stroke-width="0.21" >Depol. ratio</text>
<text x="1721.00" y="1248.00" font-size="23.0" font-family='"Liberation Serif", serif' fill="#000" textLength="82.20" lengthAdjust="spacingAndGlyphs" stroke="#000" stroke-width="0.21" >WVMR [</text>
<text x="1805.60" y="1248.00" font-size="21.39" font-family='"Liberation Sans", sans-serif' fill="#000" textLength="11.20" lengthAdjust="spacingAndGlyphs" font-style="italic" >g</text>
<text x="1837.00" y="1248.00" font-size="21.39" font-family='"Liberation Sans", sans-serif' fill="#000" textLength="22.50" lengthAdjust="spacingAndGlyphs" font-style="italic" >kg</text>
<rect x="1862.5" y="1236.10" width="7.70" height="1.35" fill="#000"/>
<text x="1872.05" y="1241.10" font-size="14.8" font-family='"Liberation Serif", serif' fill="#000" textLength="9.37" lengthAdjust="spacingAndGlyphs" stroke="#000" stroke-width="0.13" >1</text>
<text x="1883.30" y="1248.00" font-size="23.0" font-family='"Liberation Serif", serif' fill="#000" textLength="5.30" lengthAdjust="spacingAndGlyphs" stroke="#000" stroke-width="0.21" >]</text>
<text x="1822.20" y="1253.00" font-size="25.5" font-family='"Liberation Sans", sans-serif' fill="#000" textLength="9.80" lengthAdjust="spacingAndGlyphs" font-style="italic" >*</text>
<text x="1717.90" y="93.00" font-size="23.0" font-family='"Liberation Serif", serif' fill="#000" textLength="173.90" lengthAdjust="spacingAndGlyphs" stroke="#000" stroke-width="0.21" >Rel.Humidity [%]</text>
<text x="1001.40" y="1328.00" font-size="14.4" font-family='"Liberation Serif", serif' fill="#ff3333" textLength="87.40" lengthAdjust="spacingAndGlyphs" font-weight="bold" >Preliminary</text>
<text x="1001.40" y="1342.80" font-size="14.4" font-family='"Liberation Serif", serif' fill="#ff3333" textLength="58.40" lengthAdjust="spacingAndGlyphs" font-weight="bold" >Results.</text>
<text x="1500.50" y="1331.80" font-size="11.4" font-family='"Liberation Serif", serif' fill="#000" textLength="105.80" lengthAdjust="spacingAndGlyphs" font-weight="bold" >© TROPOS 2025.</text>
<text x="1500.00" y="1343.80" font-size="11.4" font-family='"Liberation Serif", serif' fill="#000" textLength="137.50" lengthAdjust="spacingAndGlyphs" font-weight="bold" >CC BY SA 4.0 License.</text>
<g><clipPath id="bclip"><rect x="664.3" y="1256.9" width="272.4000000000001" height="94.79999999999995" rx="3.5" ry="3.5"/></clipPath><g clip-path="url(#bclip)"><rect x="664.3" y="1256.9" width="272.4000000000001" height="94.79999999999995" fill="#b9c0ba"/><rect x="664.3" y="1323.4" width="272.4000000000001" height="28.299999999999955" fill="#333333"/><circle cx="711.7" cy="1300.4" r="44" fill="#b9c0ba"/></g><rect x="665.0999999999999" y="1257.7" width="270.80000000000007" height="93.19999999999996" rx="3.2" ry="3.2" fill="none" stroke="#333333" stroke-width="1.7"/><circle cx="711.7" cy="1300.4" r="32.15" fill="#fff" stroke="#333333" stroke-width="6.1"/><circle cx="808.2" cy="1290.1" r="23.75" fill="#fff" stroke="#333333" stroke-width="4.5"/><circle cx="873.0" cy="1290.1" r="23.75" fill="#fff" stroke="#333333" stroke-width="4.5"/></g>
<path d="M708.51,1295.85 A7.9,7.9 0 1 0 708.51,1305.35" fill="none" stroke="#333333" stroke-width="5.8"/>
<path d="M729.71,1295.85 A7.9,7.9 0 1 0 729.71,1305.35" fill="none" stroke="#333333" stroke-width="5.8"/>
<circle cx="808.0" cy="1276.4" r="3.6" fill="#333333"/>
<path d="M802.2,1282.4 h11.6 a1.2,1.2 0 0 1 1.2,1.2 v10.4 h-3 v12.8 h-8 v-12.8 h-3 v-10.4 a1.2,1.2 0 0 1 1.2,-1.2 z" fill="#333333"/>
<path d="M862.61,1292.00 A10.8,10.8 0 1 0 868.23,1280.96" fill="none" stroke="#333333" stroke-width="6.1"/>
<path d="M859.2,1286.3 L870.6,1286.3 L864.9,1292.2 z" fill="#333333"/>
<text x="792.60" y="1345.20" font-size="20.8" font-family='"Liberation Sans", sans-serif' fill="#fff" textLength="28.00" lengthAdjust="spacingAndGlyphs" font-weight="bold" >BY</text>
<text x="856.60" y="1345.20" font-size="20.8" font-family='"Liberation Sans", sans-serif' fill="#fff" textLength="27.60" lengthAdjust="spacingAndGlyphs" font-weight="bold" >SA</text>
</g>
</svg>
</body></html>
